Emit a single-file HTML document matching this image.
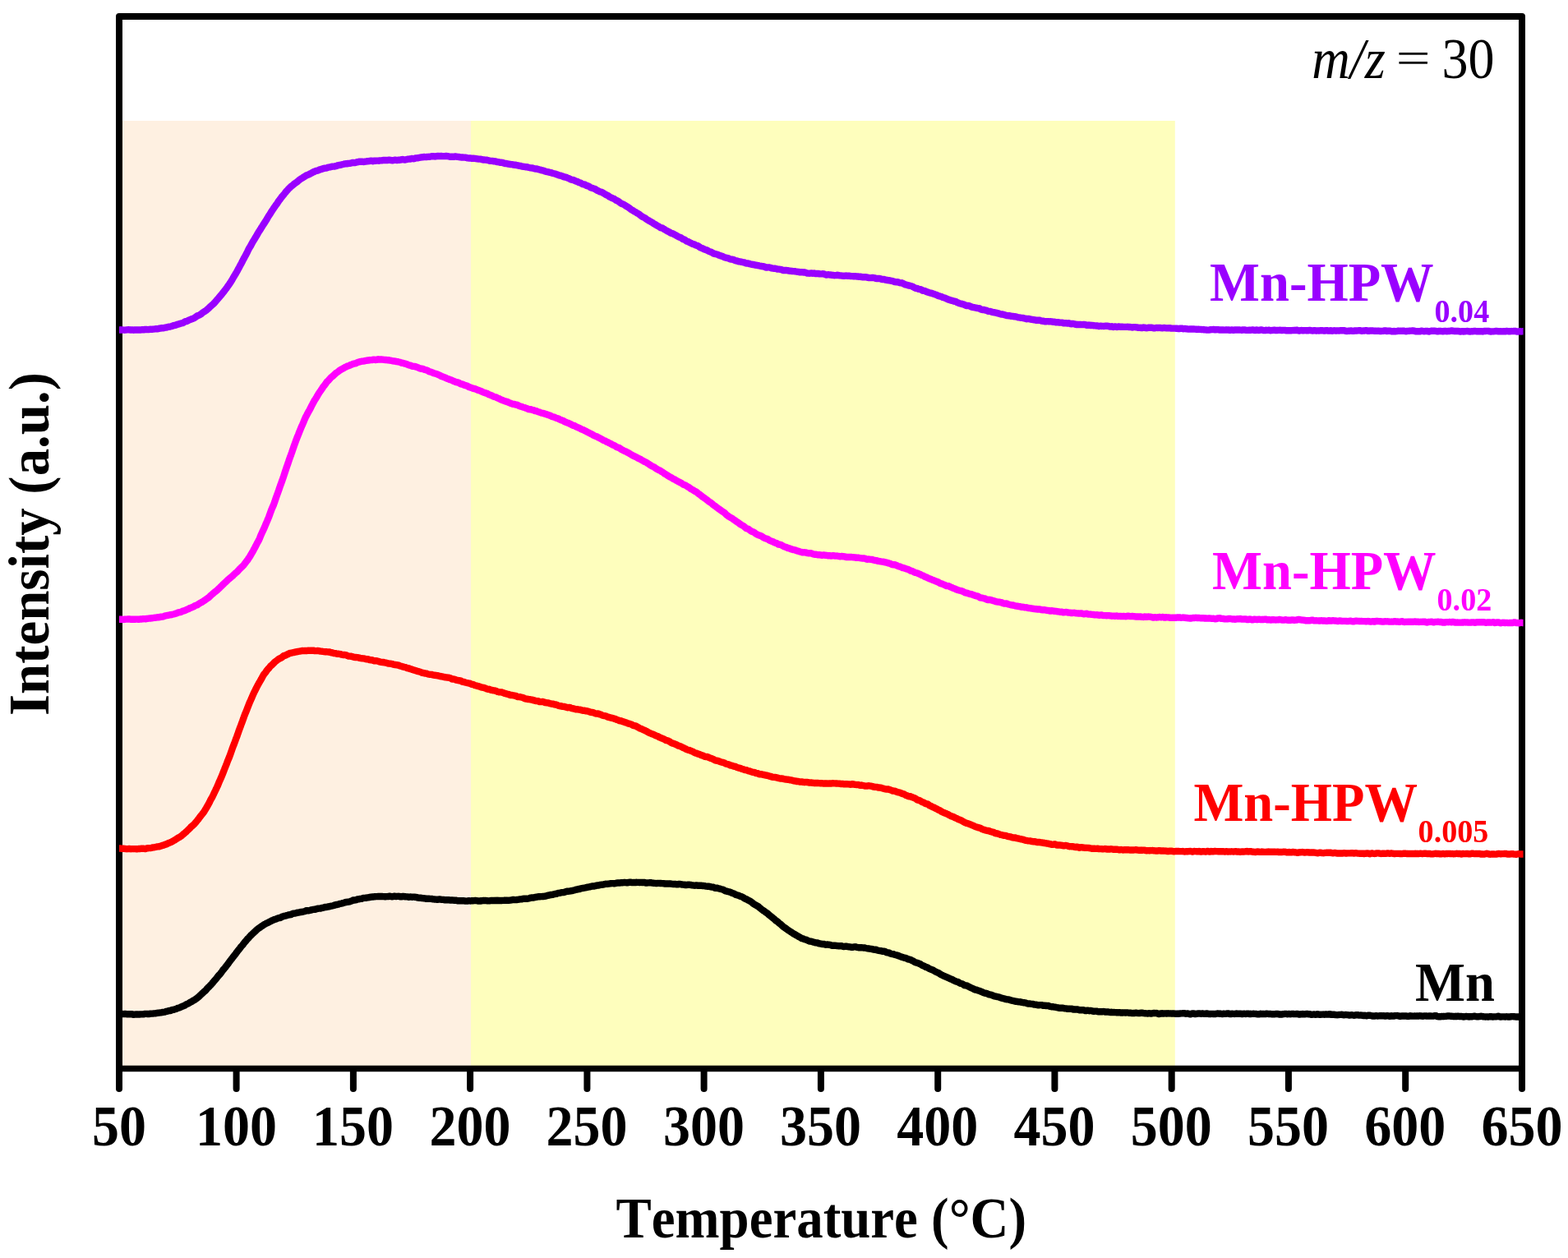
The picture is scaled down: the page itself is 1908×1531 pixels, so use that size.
<!DOCTYPE html>
<html lang="en"><head><meta charset="utf-8"><title>m/z = 30 temperature-programmed profile</title>
<style>html,body{margin:0;padding:0;background:#fff}body{width:1908px;height:1531px;overflow:hidden}svg{display:block}text{font-family:"Liberation Serif","DejaVu Serif",serif;font-kerning:none;font-variant-ligatures:none}</style>
</head><body>
<svg width="1908" height="1531" viewBox="0 0 1908 1531">
<rect x="0" y="0" width="1908" height="1531" fill="#ffffff"/>
<rect x="145.0" y="147" width="428.0" height="1153.5" fill="#fef0e1"/>
<rect x="573" y="147" width="856.8" height="1153.5" fill="#fefebd"/>
<path d="M145.0 1300.5L145.0 20.0L1852.0 20.0L1852.0 1300.5" fill="none" stroke="#000" stroke-width="8" stroke-linejoin="round" stroke-linecap="butt"/>
<line x1="141.0" y1="1300.5" x2="1856.0" y2="1300.5" stroke="#000" stroke-width="7.4"/>
<g stroke="#000" stroke-width="8" stroke-linecap="round">
<line x1="145.0" y1="1301.5" x2="145.0" y2="1324.9"/>
<line x1="287.6" y1="1301.5" x2="287.6" y2="1324.9"/>
<line x1="429.9" y1="1301.5" x2="429.9" y2="1324.9"/>
<line x1="572.1" y1="1301.5" x2="572.1" y2="1324.9"/>
<line x1="714.4" y1="1301.5" x2="714.4" y2="1324.9"/>
<line x1="856.6" y1="1301.5" x2="856.6" y2="1324.9"/>
<line x1="998.9" y1="1301.5" x2="998.9" y2="1324.9"/>
<line x1="1141.2" y1="1301.5" x2="1141.2" y2="1324.9"/>
<line x1="1283.4" y1="1301.5" x2="1283.4" y2="1324.9"/>
<line x1="1425.7" y1="1301.5" x2="1425.7" y2="1324.9"/>
<line x1="1567.9" y1="1301.5" x2="1567.9" y2="1324.9"/>
<line x1="1710.2" y1="1301.5" x2="1710.2" y2="1324.9"/>
<line x1="1852.0" y1="1301.5" x2="1852.0" y2="1324.9"/>
</g>
<g fill="none" stroke-width="8.4" stroke-linejoin="bevel" stroke-linecap="butt">
<path d="M145.0 1233.90L146.0 1233.90L147.0 1233.98L148.0 1234.11L149.0 1234.06L150.0 1234.09L151.0 1234.01L152.0 1233.87L153.0 1234.00L154.0 1234.23L155.0 1234.20L156.0 1234.16L157.0 1234.26L158.0 1234.20L159.0 1234.10L160.0 1234.12L161.0 1234.38L162.0 1234.69L163.0 1234.72L164.0 1234.66L165.0 1234.53L166.0 1234.35L167.0 1234.33L168.0 1234.51L169.0 1234.62L170.0 1234.52L171.0 1234.43L172.0 1234.36L173.0 1234.34L174.0 1234.39L175.0 1234.28L176.0 1234.02L177.0 1233.92L178.0 1233.84L179.0 1233.83L180.0 1234.08L181.0 1234.13L182.0 1233.91L183.0 1233.70L184.0 1233.61L185.0 1233.65L186.0 1233.60L187.0 1233.43L188.0 1233.36L189.0 1233.29L190.0 1233.13L191.0 1232.94L192.0 1232.78L193.0 1232.68L194.0 1232.55L195.0 1232.41L196.0 1232.31L197.0 1232.15L198.0 1231.93L199.0 1231.81L200.0 1231.70L201.0 1231.33L202.0 1230.95L203.0 1230.85L204.0 1230.67L205.0 1230.28L206.0 1230.01L207.0 1229.99L208.0 1229.84L209.0 1229.30L210.0 1228.92L211.0 1228.81L212.0 1228.59L213.0 1228.29L214.0 1228.02L215.0 1227.56L216.0 1227.08L217.0 1226.74L218.0 1226.49L219.0 1226.14L220.0 1225.57L221.0 1225.14L222.0 1224.80L223.0 1224.34L224.0 1223.95L225.0 1223.52L226.0 1222.86L227.0 1222.20L228.0 1221.76L229.0 1221.32L230.0 1220.70L231.0 1220.08L232.0 1219.51L233.0 1219.07L234.0 1218.51L235.0 1217.85L236.0 1217.33L237.0 1216.70L238.0 1216.00L239.0 1215.35L240.0 1214.60L241.0 1213.77L242.0 1212.87L243.0 1211.90L244.0 1210.97L245.0 1210.09L246.0 1209.13L247.0 1208.20L248.0 1207.23L249.0 1206.32L250.0 1205.56L251.0 1204.46L252.0 1203.16L253.0 1202.12L254.0 1201.19L255.0 1200.21L256.0 1199.16L257.0 1198.07L258.0 1197.00L259.0 1195.81L260.0 1194.53L261.0 1193.34L262.0 1192.22L263.0 1191.11L264.0 1189.80L265.0 1188.43L266.0 1187.24L267.0 1186.21L268.0 1185.22L269.0 1183.96L270.0 1182.48L271.0 1180.99L272.0 1179.76L273.0 1178.75L274.0 1177.50L275.0 1176.05L276.0 1174.80L277.0 1173.63L278.0 1172.22L279.0 1170.73L280.0 1169.40L281.0 1168.16L282.0 1166.90L283.0 1165.55L284.0 1164.19L285.0 1163.01L286.0 1161.84L287.0 1160.45L288.0 1159.00L289.0 1157.66L290.0 1156.42L291.0 1155.26L292.0 1153.94L293.0 1152.54L294.0 1151.36L295.0 1150.35L296.0 1149.09L297.0 1147.66L298.0 1146.46L299.0 1145.37L300.0 1144.10L301.0 1142.86L302.0 1141.90L303.0 1140.93L304.0 1139.71L305.0 1138.61L306.0 1137.65L307.0 1136.68L308.0 1135.81L309.0 1134.85L310.0 1133.94L311.0 1133.04L312.0 1131.97L313.0 1131.03L314.0 1130.28L315.0 1129.52L316.1 1128.87L317.1 1128.21L318.1 1127.46L319.1 1126.87L320.1 1126.12L321.1 1125.35L322.1 1124.92L323.1 1124.38L324.1 1123.70L325.1 1123.29L326.1 1122.89L327.1 1122.22L328.1 1121.75L329.1 1121.38L330.1 1120.77L331.1 1120.23L332.1 1119.81L333.1 1119.36L334.1 1118.97L335.1 1118.68L336.1 1118.40L337.1 1117.97L338.1 1117.48L339.1 1117.20L340.1 1117.06L341.1 1116.81L342.1 1116.35L343.1 1115.72L344.1 1115.34L345.1 1115.13L346.1 1114.75L347.1 1114.54L348.1 1114.36L349.1 1114.07L350.1 1113.78L351.1 1113.46L352.1 1113.24L353.1 1113.19L354.1 1113.04L355.1 1112.44L356.1 1111.89L357.1 1111.75L358.1 1111.67L359.1 1111.56L360.1 1111.27L361.1 1110.87L362.1 1110.69L363.1 1110.61L364.1 1110.40L365.1 1110.18L366.1 1109.98L367.1 1109.83L368.1 1109.71L369.1 1109.45L370.1 1109.20L371.1 1108.90L372.1 1108.39L373.1 1108.17L374.1 1108.28L375.1 1108.28L376.1 1108.10L377.1 1107.91L378.1 1107.69L379.1 1107.35L380.1 1107.13L381.1 1106.97L382.1 1106.82L383.1 1106.78L384.1 1106.59L385.1 1106.17L386.1 1105.87L387.1 1105.70L388.1 1105.63L389.1 1105.63L390.1 1105.48L391.1 1105.17L392.1 1104.94L393.1 1104.81L394.1 1104.46L395.1 1104.04L396.1 1104.01L397.1 1104.09L398.1 1103.79L399.1 1103.48L400.1 1103.35L401.1 1103.08L402.1 1102.88L403.1 1102.72L404.1 1102.46L405.1 1102.21L406.1 1101.92L407.1 1101.68L408.1 1101.34L409.1 1101.03L410.1 1100.97L411.1 1100.74L412.1 1100.41L413.1 1100.10L414.1 1099.80L415.1 1099.61L416.1 1099.40L417.1 1099.11L418.1 1098.83L419.1 1098.52L420.1 1098.18L421.1 1097.99L422.1 1097.90L423.1 1097.69L424.1 1097.51L425.1 1097.33L426.1 1097.07L427.1 1096.75L428.1 1096.33L429.1 1095.88L430.1 1095.38L431.1 1095.33L432.1 1095.50L433.1 1095.26L434.1 1094.85L435.1 1094.44L436.1 1094.30L437.1 1094.27L438.1 1093.99L439.1 1093.81L440.1 1093.71L441.1 1093.35L442.1 1093.02L443.1 1092.90L444.1 1092.85L445.1 1092.79L446.1 1092.56L447.1 1092.39L448.1 1092.37L449.1 1092.18L450.1 1091.90L451.1 1091.76L452.1 1091.66L453.1 1091.52L454.1 1091.46L455.1 1091.41L456.1 1091.21L457.1 1091.09L458.1 1091.16L459.1 1091.09L460.1 1090.99L461.1 1091.02L462.1 1090.94L463.1 1090.89L464.1 1090.98L465.1 1090.99L466.1 1091.07L467.1 1091.17L468.1 1091.22L469.1 1091.28L470.1 1091.17L471.1 1091.13L472.1 1091.17L473.1 1090.90L474.1 1090.73L475.1 1090.90L476.1 1091.11L477.1 1091.20L478.1 1091.10L479.1 1090.87L480.1 1090.69L481.1 1090.84L482.1 1091.01L483.1 1090.92L484.1 1090.86L485.1 1090.79L486.1 1090.93L487.1 1091.36L488.1 1091.43L489.1 1091.13L490.1 1090.94L491.1 1090.95L492.1 1091.10L493.1 1091.27L494.1 1091.31L495.1 1091.33L496.1 1091.45L497.1 1091.72L498.1 1091.79L499.1 1091.55L500.1 1091.54L501.1 1091.69L502.1 1091.69L503.1 1091.59L504.1 1091.61L505.1 1091.75L506.1 1091.84L507.1 1092.06L508.1 1092.40L509.1 1092.69L510.1 1092.80L511.1 1092.71L512.1 1092.75L513.1 1093.02L514.1 1093.17L515.1 1093.20L516.1 1093.29L517.1 1093.45L518.1 1093.69L519.1 1093.76L520.1 1093.70L521.1 1093.70L522.1 1093.76L523.1 1093.85L524.1 1093.85L525.1 1093.89L526.1 1094.16L527.1 1094.36L528.1 1094.41L529.1 1094.56L530.1 1094.63L531.1 1094.57L532.1 1094.75L533.1 1094.78L534.1 1094.53L535.1 1094.48L536.1 1094.61L537.1 1094.73L538.1 1094.84L539.1 1094.86L540.1 1094.97L541.1 1095.24L542.1 1095.35L543.1 1095.21L544.1 1095.09L545.1 1095.22L546.1 1095.29L547.1 1095.39L548.1 1095.59L549.1 1095.46L550.1 1095.31L551.1 1095.53L552.1 1095.75L553.1 1095.76L554.1 1095.70L555.1 1095.80L556.1 1096.11L557.1 1096.24L558.1 1096.27L559.1 1096.29L560.1 1096.25L561.1 1096.27L562.1 1096.23L563.1 1096.20L564.1 1096.25L565.1 1096.39L566.1 1096.55L567.1 1096.58L568.1 1096.63L569.1 1096.49L570.1 1096.19L571.1 1096.24L572.1 1096.46L573.1 1096.35L574.1 1096.20L575.1 1096.25L576.1 1096.23L577.1 1096.06L578.1 1095.96L579.1 1096.04L580.1 1096.24L581.1 1096.44L582.1 1096.36L583.1 1096.34L584.1 1096.60L585.1 1096.54L586.1 1096.26L587.1 1096.11L588.1 1095.98L589.1 1096.03L590.1 1096.12L591.1 1096.03L592.1 1096.13L593.1 1096.31L594.1 1096.38L595.1 1096.42L596.1 1096.26L597.1 1096.05L598.1 1096.01L599.1 1096.01L600.1 1095.88L601.1 1095.82L602.1 1096.04L603.1 1096.14L604.1 1095.86L605.1 1095.78L606.1 1096.02L607.1 1096.06L608.1 1096.00L609.1 1096.10L610.1 1096.03L611.1 1095.85L612.1 1095.84L613.1 1095.82L614.1 1095.79L615.1 1095.79L616.1 1095.72L617.1 1095.72L618.1 1095.82L619.1 1095.77L620.1 1095.62L621.1 1095.63L622.1 1095.46L623.1 1095.13L624.1 1094.99L625.1 1094.98L626.1 1095.08L627.1 1095.17L628.1 1095.09L629.1 1094.96L630.1 1094.88L631.1 1094.71L632.1 1094.52L633.1 1094.42L634.1 1094.39L635.1 1094.25L636.1 1093.96L637.1 1093.74L638.1 1093.63L639.1 1093.69L640.1 1093.78L641.1 1093.75L642.1 1093.70L643.1 1093.49L644.1 1093.18L645.1 1092.85L646.1 1092.56L647.1 1092.44L648.1 1092.42L649.1 1092.45L650.1 1092.40L651.1 1091.98L652.1 1091.65L653.1 1091.71L654.1 1091.45L655.1 1091.09L656.1 1091.15L657.1 1091.20L658.2 1091.15L659.2 1091.11L660.2 1091.01L661.2 1090.95L662.2 1090.88L663.2 1090.64L664.2 1090.49L665.2 1090.18L666.2 1089.74L667.2 1089.69L668.2 1089.51L669.2 1089.11L670.2 1088.97L671.2 1088.95L672.2 1088.91L673.2 1088.60L674.2 1088.22L675.2 1087.99L676.2 1087.88L677.2 1087.74L678.2 1087.36L679.2 1087.01L680.2 1086.93L681.2 1086.86L682.2 1086.55L683.2 1086.25L684.2 1086.16L685.2 1086.13L686.2 1086.03L687.2 1085.77L688.2 1085.30L689.2 1084.87L690.2 1084.76L691.2 1084.74L692.2 1084.63L693.2 1084.54L694.2 1084.43L695.2 1084.19L696.2 1084.01L697.2 1083.84L698.2 1083.53L699.2 1083.23L700.2 1082.91L701.2 1082.71L702.2 1082.51L703.2 1082.09L704.2 1081.97L705.2 1081.94L706.2 1081.57L707.2 1081.24L708.2 1081.01L709.2 1080.83L710.2 1080.71L711.2 1080.57L712.2 1080.44L713.2 1080.24L714.2 1079.89L715.2 1079.58L716.2 1079.51L717.2 1079.41L718.2 1079.11L719.2 1078.90L720.2 1078.69L721.2 1078.49L722.2 1078.48L723.2 1078.44L724.2 1078.22L725.2 1077.89L726.2 1077.62L727.2 1077.46L728.2 1077.45L729.2 1077.35L730.2 1076.95L731.2 1076.71L732.2 1076.74L733.2 1076.65L734.2 1076.51L735.2 1076.21L736.2 1075.85L737.2 1075.82L738.2 1075.83L739.2 1075.72L740.2 1075.58L741.2 1075.48L742.2 1075.37L743.2 1075.21L744.2 1075.13L745.2 1075.10L746.2 1075.11L747.2 1075.23L748.2 1075.24L749.2 1075.02L750.2 1074.70L751.2 1074.46L752.2 1074.39L753.2 1074.48L754.2 1074.51L755.2 1074.38L756.2 1074.15L757.2 1074.10L758.2 1074.22L759.2 1074.02L760.2 1073.89L761.2 1074.06L762.2 1074.23L763.2 1074.36L764.2 1074.14L765.2 1073.84L766.2 1073.74L767.2 1073.73L768.2 1073.92L769.2 1074.14L770.2 1074.13L771.2 1074.01L772.2 1074.08L773.2 1074.04L774.2 1073.81L775.2 1073.85L776.2 1073.89L777.2 1073.89L778.2 1074.02L779.2 1073.94L780.2 1073.85L781.2 1073.98L782.2 1073.97L783.2 1073.84L784.2 1073.99L785.2 1074.32L786.2 1074.53L787.2 1074.48L788.2 1074.37L789.2 1074.35L790.2 1074.26L791.2 1074.12L792.2 1074.23L793.2 1074.48L794.2 1074.61L795.2 1074.71L796.2 1074.83L797.2 1074.95L798.2 1075.07L799.2 1075.02L800.2 1074.89L801.2 1074.84L802.2 1074.92L803.2 1074.99L804.2 1075.03L805.2 1075.13L806.2 1075.12L807.2 1075.15L808.2 1075.44L809.2 1075.61L810.2 1075.49L811.2 1075.40L812.2 1075.46L813.2 1075.58L814.2 1075.55L815.2 1075.32L816.2 1075.52L817.2 1075.88L818.2 1075.90L819.2 1076.03L820.2 1076.18L821.2 1075.99L822.2 1075.94L823.2 1076.32L824.2 1076.46L825.2 1076.15L826.2 1075.94L827.2 1075.99L828.2 1076.14L829.2 1076.33L830.2 1076.55L831.2 1076.63L832.2 1076.59L833.2 1076.84L834.2 1077.13L835.2 1077.02L836.2 1076.84L837.2 1076.67L838.2 1076.63L839.2 1076.76L840.2 1076.88L841.2 1077.14L842.2 1077.34L843.2 1077.38L844.2 1077.55L845.2 1077.72L846.2 1077.66L847.2 1077.43L848.2 1077.46L849.2 1077.75L850.2 1077.90L851.2 1077.78L852.2 1077.68L853.2 1077.69L854.2 1077.83L855.2 1078.00L856.2 1078.05L857.2 1078.19L858.2 1078.42L859.2 1078.59L860.2 1078.69L861.2 1078.70L862.2 1078.75L863.2 1078.93L864.2 1079.15L865.2 1079.38L866.2 1079.57L867.2 1079.58L868.2 1079.73L869.2 1080.34L870.2 1080.73L871.2 1080.66L872.2 1080.71L873.2 1080.94L874.2 1081.27L875.2 1081.52L876.2 1081.67L877.2 1082.00L878.2 1082.27L879.2 1082.49L880.2 1082.85L881.2 1083.45L882.2 1084.16L883.2 1084.41L884.2 1084.57L885.2 1084.92L886.2 1085.12L887.2 1085.31L888.2 1085.63L889.2 1086.00L890.2 1086.49L891.2 1087.05L892.2 1087.31L893.2 1087.57L894.2 1088.18L895.2 1088.76L896.2 1089.18L897.2 1089.39L898.2 1089.59L899.2 1090.04L900.2 1090.58L901.2 1090.88L902.2 1091.08L903.2 1091.63L904.2 1092.20L905.2 1092.79L906.2 1093.64L907.2 1093.99L908.2 1094.15L909.2 1094.82L910.2 1095.42L911.2 1095.92L912.2 1096.53L913.2 1097.03L914.2 1097.58L915.2 1098.43L916.2 1099.35L917.2 1100.10L918.2 1100.69L919.2 1101.21L920.2 1101.91L921.2 1102.51L922.2 1102.90L923.2 1103.68L924.2 1104.59L925.2 1105.31L926.2 1106.15L927.2 1106.96L928.2 1107.74L929.2 1108.43L930.2 1109.05L931.2 1109.87L932.2 1110.60L933.2 1111.18L934.2 1111.93L935.2 1112.86L936.2 1113.77L937.2 1114.59L938.2 1115.28L939.2 1116.02L940.2 1117.02L941.2 1117.82L942.2 1118.48L943.2 1119.46L944.2 1120.45L945.2 1121.00L946.2 1121.56L947.2 1122.64L948.2 1123.62L949.2 1124.24L950.2 1125.05L951.2 1126.07L952.2 1127.06L953.2 1127.86L954.2 1128.48L955.2 1129.15L956.2 1129.92L957.2 1130.71L958.2 1131.43L959.2 1132.09L960.2 1132.71L961.2 1133.39L962.2 1134.08L963.2 1134.69L964.2 1135.42L965.2 1136.16L966.2 1136.62L967.2 1137.11L968.2 1137.73L969.2 1138.30L970.2 1138.89L971.2 1139.50L972.2 1140.08L973.2 1140.54L974.2 1141.18L975.2 1141.90L976.2 1142.21L977.2 1142.45L978.2 1142.86L979.2 1143.22L980.2 1143.46L981.2 1143.78L982.2 1144.28L983.2 1144.73L984.2 1145.19L985.2 1145.58L986.2 1145.66L987.2 1145.75L988.2 1146.06L989.2 1146.43L990.2 1146.71L991.2 1146.91L992.2 1147.22L993.2 1147.34L994.2 1147.33L995.2 1147.67L996.2 1148.14L997.2 1148.41L998.2 1148.50L999.2 1148.72L1000.3 1149.04L1001.3 1149.08L1002.3 1148.97L1003.3 1149.17L1004.3 1149.65L1005.3 1149.79L1006.3 1149.49L1007.3 1149.42L1008.3 1149.75L1009.3 1149.93L1010.3 1150.00L1011.3 1150.38L1012.3 1150.73L1013.3 1150.68L1014.3 1150.68L1015.3 1150.78L1016.3 1150.75L1017.3 1150.84L1018.3 1151.01L1019.3 1151.10L1020.3 1151.21L1021.3 1151.39L1022.3 1151.37L1023.3 1151.15L1024.3 1151.28L1025.3 1151.69L1026.3 1151.96L1027.3 1151.96L1028.3 1151.77L1029.3 1151.67L1030.3 1151.76L1031.3 1152.03L1032.3 1152.22L1033.3 1152.28L1034.3 1152.45L1035.3 1152.67L1036.3 1152.83L1037.3 1152.77L1038.3 1152.58L1039.3 1152.43L1040.3 1152.30L1041.3 1152.34L1042.3 1152.66L1043.3 1152.95L1044.3 1153.11L1045.3 1153.26L1046.3 1153.29L1047.3 1153.19L1048.3 1153.14L1049.3 1153.30L1050.3 1153.49L1051.3 1153.45L1052.3 1153.51L1053.3 1153.78L1054.3 1154.02L1055.3 1154.24L1056.3 1154.40L1057.3 1154.53L1058.3 1154.67L1059.3 1154.81L1060.3 1154.94L1061.3 1155.11L1062.3 1155.39L1063.3 1155.62L1064.3 1155.75L1065.3 1155.70L1066.3 1155.91L1067.3 1156.38L1068.3 1156.57L1069.3 1156.76L1070.3 1157.05L1071.3 1157.22L1072.3 1157.26L1073.3 1157.59L1074.3 1157.92L1075.3 1157.73L1076.3 1157.68L1077.3 1158.22L1078.3 1158.97L1079.3 1159.42L1080.3 1159.40L1081.3 1159.42L1082.3 1159.89L1083.3 1160.38L1084.3 1160.76L1085.3 1161.04L1086.3 1161.09L1087.3 1161.26L1088.3 1161.76L1089.3 1162.06L1090.3 1162.09L1091.3 1162.46L1092.3 1162.84L1093.3 1163.12L1094.3 1163.59L1095.3 1164.08L1096.3 1164.37L1097.3 1164.62L1098.3 1165.04L1099.3 1165.36L1100.3 1165.59L1101.3 1165.82L1102.3 1165.95L1103.3 1166.45L1104.3 1167.17L1105.3 1167.44L1106.3 1167.52L1107.3 1167.75L1108.3 1168.20L1109.3 1168.76L1110.3 1169.15L1111.3 1169.64L1112.3 1170.34L1113.3 1170.98L1114.3 1171.42L1115.3 1171.61L1116.3 1171.82L1117.3 1172.22L1118.3 1172.61L1119.3 1173.04L1120.3 1173.57L1121.3 1174.22L1122.3 1174.85L1123.3 1175.23L1124.3 1175.67L1125.3 1176.29L1126.3 1176.81L1127.3 1177.04L1128.3 1177.28L1129.3 1177.93L1130.3 1178.69L1131.3 1179.11L1132.3 1179.46L1133.3 1179.92L1134.3 1180.23L1135.3 1180.62L1136.3 1181.28L1137.3 1181.89L1138.3 1182.41L1139.3 1182.95L1140.3 1183.35L1141.3 1183.74L1142.3 1184.17L1143.3 1184.85L1144.3 1185.81L1145.3 1186.28L1146.3 1186.64L1147.3 1187.22L1148.3 1187.59L1149.3 1188.01L1150.3 1188.58L1151.3 1188.90L1152.3 1189.23L1153.3 1189.86L1154.3 1190.20L1155.3 1190.67L1156.3 1191.35L1157.3 1191.54L1158.3 1191.89L1159.3 1192.53L1160.3 1193.09L1161.3 1193.54L1162.3 1194.03L1163.3 1194.54L1164.3 1194.81L1165.3 1195.00L1166.3 1195.41L1167.3 1196.05L1168.3 1196.66L1169.3 1197.04L1170.3 1197.28L1171.3 1197.58L1172.3 1198.14L1173.3 1198.98L1174.3 1199.47L1175.3 1199.32L1176.3 1199.39L1177.3 1200.00L1178.3 1200.54L1179.3 1201.01L1180.3 1201.53L1181.3 1202.05L1182.3 1202.54L1183.3 1202.84L1184.3 1203.26L1185.3 1203.98L1186.3 1204.44L1187.3 1204.52L1188.3 1204.73L1189.3 1205.10L1190.3 1205.48L1191.3 1205.79L1192.3 1206.17L1193.3 1206.60L1194.3 1206.93L1195.3 1207.36L1196.3 1207.83L1197.3 1208.21L1198.3 1208.59L1199.3 1208.77L1200.3 1208.92L1201.3 1209.25L1202.3 1209.73L1203.3 1210.27L1204.3 1210.43L1205.3 1210.59L1206.3 1210.84L1207.3 1211.15L1208.3 1211.69L1209.3 1212.08L1210.3 1212.43L1211.3 1212.64L1212.3 1212.74L1213.3 1213.03L1214.3 1213.21L1215.3 1213.36L1216.3 1213.76L1217.3 1214.14L1218.3 1214.54L1219.3 1214.87L1220.3 1215.00L1221.3 1215.26L1222.3 1215.56L1223.3 1215.88L1224.3 1216.15L1225.3 1216.26L1226.3 1216.33L1227.3 1216.41L1228.3 1216.76L1229.3 1217.22L1230.3 1217.44L1231.3 1217.71L1232.3 1217.93L1233.3 1218.06L1234.3 1218.28L1235.3 1218.58L1236.3 1218.83L1237.3 1218.82L1238.3 1219.01L1239.3 1219.38L1240.3 1219.34L1241.3 1219.32L1242.3 1219.60L1243.3 1219.75L1244.3 1220.00L1245.3 1220.26L1246.3 1220.31L1247.3 1220.39L1248.3 1220.57L1249.3 1221.00L1250.3 1221.45L1251.3 1221.60L1252.3 1221.56L1253.3 1221.57L1254.3 1221.72L1255.3 1221.82L1256.3 1221.90L1257.3 1222.16L1258.3 1222.49L1259.3 1222.59L1260.3 1222.58L1261.3 1222.84L1262.3 1223.13L1263.3 1223.28L1264.3 1223.23L1265.3 1223.11L1266.3 1223.11L1267.3 1223.13L1268.3 1223.38L1269.3 1223.79L1270.3 1223.88L1271.3 1223.74L1272.3 1223.90L1273.3 1224.16L1274.3 1224.03L1275.3 1223.87L1276.3 1224.16L1277.3 1224.67L1278.3 1225.00L1279.3 1225.21L1280.3 1225.22L1281.3 1225.30L1282.3 1225.59L1283.3 1225.59L1284.3 1225.63L1285.3 1225.96L1286.3 1226.21L1287.3 1226.38L1288.3 1226.61L1289.3 1226.77L1290.3 1226.70L1291.3 1226.68L1292.3 1226.69L1293.3 1226.69L1294.3 1227.00L1295.3 1227.33L1296.3 1227.38L1297.3 1227.36L1298.3 1227.56L1299.3 1227.89L1300.3 1227.83L1301.3 1227.61L1302.3 1227.83L1303.3 1227.90L1304.3 1227.74L1305.3 1228.14L1306.3 1228.63L1307.3 1228.63L1308.3 1228.44L1309.3 1228.37L1310.3 1228.45L1311.3 1228.52L1312.3 1228.79L1313.3 1229.22L1314.3 1229.32L1315.3 1229.19L1316.3 1229.23L1317.3 1229.24L1318.3 1229.26L1319.3 1229.59L1320.3 1230.08L1321.3 1230.20L1322.3 1229.84L1323.3 1229.55L1324.3 1229.80L1325.3 1230.24L1326.3 1230.18L1327.3 1229.93L1328.3 1230.05L1329.3 1230.48L1330.3 1230.81L1331.3 1230.74L1332.3 1230.60L1333.3 1230.58L1334.3 1230.61L1335.3 1230.91L1336.3 1231.31L1337.3 1231.26L1338.3 1231.06L1339.3 1231.19L1340.3 1231.38L1341.4 1231.22L1342.4 1231.05L1343.4 1231.09L1344.4 1231.33L1345.4 1231.65L1346.4 1231.60L1347.4 1231.37L1348.4 1231.45L1349.4 1231.80L1350.4 1232.07L1351.4 1231.86L1352.4 1231.79L1353.4 1232.11L1354.4 1232.10L1355.4 1232.03L1356.4 1232.14L1357.4 1232.16L1358.4 1232.18L1359.4 1232.25L1360.4 1232.41L1361.4 1232.42L1362.4 1232.19L1363.4 1232.32L1364.4 1232.61L1365.4 1232.54L1366.4 1232.44L1367.4 1232.39L1368.4 1232.35L1369.4 1232.49L1370.4 1232.44L1371.4 1232.29L1372.4 1232.52L1373.4 1232.75L1374.4 1232.64L1375.4 1232.69L1376.4 1232.92L1377.4 1233.05L1378.4 1233.11L1379.4 1232.96L1380.4 1232.93L1381.4 1232.89L1382.4 1232.61L1383.4 1232.82L1384.4 1233.22L1385.4 1233.06L1386.4 1232.95L1387.4 1233.00L1388.4 1232.72L1389.4 1232.52L1390.4 1232.74L1391.4 1233.10L1392.4 1233.19L1393.4 1233.14L1394.4 1233.30L1395.4 1233.43L1396.4 1233.50L1397.4 1233.37L1398.4 1233.21L1399.4 1233.38L1400.4 1233.50L1401.4 1233.51L1402.4 1233.23L1403.4 1232.88L1404.4 1232.95L1405.4 1233.16L1406.4 1233.11L1407.4 1233.01L1408.4 1233.39L1409.4 1233.82L1410.4 1234.00L1411.4 1233.89L1412.4 1233.47L1413.4 1233.25L1414.4 1233.44L1415.4 1233.69L1416.4 1233.57L1417.4 1233.29L1418.4 1233.43L1419.4 1233.57L1420.4 1233.34L1421.4 1233.31L1422.4 1233.47L1423.4 1233.42L1424.4 1233.36L1425.4 1233.53L1426.4 1233.64L1427.4 1233.50L1428.4 1233.48L1429.4 1233.61L1430.4 1233.71L1431.4 1233.68L1432.4 1233.67L1433.4 1233.86L1434.4 1233.75L1435.4 1233.48L1436.4 1233.45L1437.4 1233.38L1438.4 1233.36L1439.4 1233.29L1440.4 1233.12L1441.4 1233.21L1442.4 1233.60L1443.4 1233.79L1444.4 1233.51L1445.4 1233.48L1446.4 1233.83L1447.4 1234.12L1448.4 1234.28L1449.4 1234.06L1450.4 1233.51L1451.4 1233.28L1452.4 1233.47L1453.4 1233.93L1454.4 1234.18L1455.4 1233.92L1456.4 1233.78L1457.4 1233.69L1458.4 1233.44L1459.4 1233.39L1460.4 1233.68L1461.4 1233.77L1462.4 1233.56L1463.4 1233.49L1464.4 1233.61L1465.4 1233.82L1466.4 1233.93L1467.4 1233.66L1468.4 1233.47L1469.4 1233.66L1470.4 1233.89L1471.4 1234.05L1472.4 1234.03L1473.4 1233.94L1474.4 1233.88L1475.4 1233.85L1476.4 1233.99L1477.4 1234.17L1478.4 1234.12L1479.4 1233.87L1480.4 1233.70L1481.4 1233.46L1482.4 1233.38L1483.4 1233.73L1484.4 1233.91L1485.4 1233.74L1486.4 1233.82L1487.4 1233.99L1488.4 1233.82L1489.4 1233.79L1490.4 1233.91L1491.4 1233.82L1492.4 1233.65L1493.4 1233.50L1494.4 1233.38L1495.4 1233.69L1496.4 1234.15L1497.4 1234.15L1498.4 1233.87L1499.4 1233.75L1500.4 1233.84L1501.4 1233.90L1502.4 1233.95L1503.4 1233.79L1504.4 1233.51L1505.4 1233.61L1506.4 1233.88L1507.4 1233.89L1508.4 1233.74L1509.4 1233.68L1510.4 1233.84L1511.4 1234.08L1512.4 1234.03L1513.4 1233.79L1514.4 1233.81L1515.4 1233.97L1516.4 1233.86L1517.4 1233.68L1518.4 1233.60L1519.4 1233.63L1520.4 1233.98L1521.4 1234.14L1522.4 1233.93L1523.4 1233.92L1524.4 1233.89L1525.4 1233.79L1526.4 1233.86L1527.4 1233.93L1528.4 1233.99L1529.4 1234.18L1530.4 1234.33L1531.4 1234.39L1532.4 1234.27L1533.4 1233.92L1534.4 1233.78L1535.4 1234.00L1536.4 1234.15L1537.4 1234.04L1538.4 1234.06L1539.4 1234.20L1540.4 1233.89L1541.4 1233.60L1542.4 1233.79L1543.4 1233.99L1544.4 1233.96L1545.4 1233.96L1546.4 1234.17L1547.4 1234.21L1548.4 1234.18L1549.4 1234.36L1550.4 1234.29L1551.4 1234.09L1552.4 1234.03L1553.4 1233.99L1554.4 1233.97L1555.4 1234.19L1556.4 1234.44L1557.4 1234.42L1558.4 1234.49L1559.4 1234.60L1560.4 1234.43L1561.4 1234.21L1562.4 1234.07L1563.4 1233.93L1564.4 1233.79L1565.4 1233.92L1566.4 1234.21L1567.4 1234.11L1568.4 1233.98L1569.4 1234.14L1570.4 1234.23L1571.4 1234.05L1572.4 1233.80L1573.4 1233.92L1574.4 1234.16L1575.4 1234.14L1576.4 1234.12L1577.4 1234.04L1578.4 1233.98L1579.4 1234.19L1580.4 1234.44L1581.4 1234.49L1582.4 1234.32L1583.4 1234.19L1584.4 1234.11L1585.4 1234.06L1586.4 1234.25L1587.4 1234.46L1588.4 1234.23L1589.4 1233.85L1590.4 1233.86L1591.4 1234.18L1592.4 1234.28L1593.4 1234.15L1594.4 1234.36L1595.4 1234.71L1596.4 1234.79L1597.4 1234.69L1598.4 1234.51L1599.4 1234.44L1600.4 1234.77L1601.4 1234.81L1602.4 1234.29L1603.4 1234.14L1604.4 1234.55L1605.4 1234.89L1606.4 1234.88L1607.4 1234.67L1608.4 1234.62L1609.4 1234.60L1610.4 1234.53L1611.4 1234.68L1612.4 1234.64L1613.4 1234.35L1614.4 1234.44L1615.4 1234.70L1616.4 1234.56L1617.4 1234.16L1618.4 1234.16L1619.4 1234.62L1620.4 1234.93L1621.4 1234.79L1622.4 1234.53L1623.4 1234.71L1624.4 1235.03L1625.4 1235.05L1626.4 1235.17L1627.4 1235.26L1628.4 1235.05L1629.4 1234.93L1630.4 1234.91L1631.4 1234.82L1632.4 1234.73L1633.4 1234.86L1634.4 1235.10L1635.4 1235.21L1636.4 1235.12L1637.4 1234.98L1638.4 1235.07L1639.4 1235.10L1640.4 1235.17L1641.4 1235.46L1642.4 1235.50L1643.4 1235.37L1644.4 1235.30L1645.4 1235.26L1646.4 1235.48L1647.4 1235.71L1648.4 1235.59L1649.4 1235.37L1650.4 1235.18L1651.4 1235.03L1652.4 1235.20L1653.4 1235.58L1654.4 1235.68L1655.4 1235.56L1656.4 1235.54L1657.4 1235.79L1658.4 1236.10L1659.4 1235.97L1660.4 1235.65L1661.4 1235.80L1662.4 1236.26L1663.4 1236.22L1664.4 1235.81L1665.4 1235.76L1666.4 1235.81L1667.4 1235.80L1668.4 1236.00L1669.4 1236.43L1670.4 1236.55L1671.4 1236.43L1672.4 1236.54L1673.4 1236.36L1674.4 1236.19L1675.4 1236.41L1676.4 1236.47L1677.4 1236.40L1678.4 1236.40L1679.4 1236.19L1680.4 1236.08L1681.4 1236.32L1682.4 1236.33L1683.5 1236.20L1684.5 1236.34L1685.5 1236.58L1686.5 1236.51L1687.5 1236.26L1688.5 1236.22L1689.5 1236.31L1690.5 1236.63L1691.5 1236.81L1692.5 1236.38L1693.5 1236.06L1694.5 1236.44L1695.5 1236.70L1696.5 1236.42L1697.5 1236.19L1698.5 1236.14L1699.5 1236.09L1700.5 1236.05L1701.5 1236.27L1702.5 1236.68L1703.5 1236.83L1704.5 1236.73L1705.5 1236.47L1706.5 1236.41L1707.5 1236.55L1708.5 1236.56L1709.5 1236.45L1710.5 1236.40L1711.5 1236.65L1712.5 1236.81L1713.5 1236.78L1714.5 1236.76L1715.5 1236.42L1716.5 1236.23L1717.5 1236.48L1718.5 1236.60L1719.5 1236.67L1720.5 1236.65L1721.5 1236.49L1722.5 1236.59L1723.5 1236.57L1724.5 1236.44L1725.5 1236.58L1726.5 1236.50L1727.5 1236.29L1728.5 1236.36L1729.5 1236.49L1730.5 1236.65L1731.5 1236.71L1732.5 1236.50L1733.5 1236.43L1734.5 1236.37L1735.5 1236.46L1736.5 1236.69L1737.5 1236.60L1738.5 1236.49L1739.5 1236.37L1740.5 1236.37L1741.5 1236.59L1742.5 1236.68L1743.5 1236.61L1744.5 1236.57L1745.5 1236.24L1746.5 1235.92L1747.5 1236.30L1748.5 1236.85L1749.5 1237.12L1750.5 1237.22L1751.5 1237.23L1752.5 1237.23L1753.5 1237.07L1754.5 1236.89L1755.5 1237.04L1756.5 1237.15L1757.5 1236.93L1758.5 1236.87L1759.5 1236.82L1760.5 1236.65L1761.5 1236.54L1762.5 1236.47L1763.5 1236.54L1764.5 1236.65L1765.5 1236.74L1766.5 1236.74L1767.5 1236.85L1768.5 1236.95L1769.5 1236.87L1770.5 1236.98L1771.5 1237.17L1772.5 1237.01L1773.5 1236.63L1774.5 1236.69L1775.5 1237.02L1776.5 1237.06L1777.5 1237.00L1778.5 1237.05L1779.5 1237.10L1780.5 1237.35L1781.5 1237.57L1782.5 1237.26L1783.5 1236.90L1784.5 1236.99L1785.5 1237.09L1786.5 1237.21L1787.5 1237.44L1788.5 1237.37L1789.5 1237.17L1790.5 1237.20L1791.5 1237.26L1792.5 1236.97L1793.5 1236.64L1794.5 1236.78L1795.5 1237.06L1796.5 1237.22L1797.5 1237.41L1798.5 1237.34L1799.5 1237.16L1800.5 1237.09L1801.5 1236.89L1802.5 1236.79L1803.5 1236.95L1804.5 1237.20L1805.5 1237.30L1806.5 1237.37L1807.5 1237.45L1808.5 1237.35L1809.5 1237.37L1810.5 1237.50L1811.5 1237.45L1812.5 1237.31L1813.5 1237.26L1814.5 1237.25L1815.5 1237.38L1816.5 1237.48L1817.5 1237.36L1818.5 1237.36L1819.5 1237.40L1820.5 1237.33L1821.5 1237.18L1822.5 1236.89L1823.5 1236.80L1824.5 1237.13L1825.5 1237.45L1826.5 1237.46L1827.5 1237.37L1828.5 1237.40L1829.5 1237.40L1830.5 1237.38L1831.5 1237.45L1832.5 1237.36L1833.5 1237.30L1834.5 1237.46L1835.5 1237.40L1836.5 1237.45L1837.5 1237.53L1838.5 1237.22L1839.5 1237.09L1840.5 1237.12L1841.5 1237.13L1842.5 1237.27L1843.5 1237.41L1844.5 1237.46L1845.5 1237.45L1846.5 1237.53L1847.5 1237.54L1848.5 1237.64L1849.5 1237.99L1850.5 1238.02L1851.5 1237.70L1852.5 1237.50L1853.5 1237.50" stroke="#000000"/>
<path d="M145.0 1032.50L146.0 1032.50L147.0 1032.68L148.0 1032.75L149.0 1032.75L150.0 1032.75L151.0 1032.79L152.0 1032.92L153.0 1033.09L154.0 1033.18L155.0 1033.15L156.0 1033.08L157.0 1032.96L158.0 1033.02L159.0 1033.19L160.0 1033.16L161.0 1033.10L162.0 1033.13L163.0 1033.13L164.0 1033.10L165.0 1033.14L166.0 1033.23L167.0 1033.21L168.0 1033.14L169.0 1033.06L170.0 1032.98L171.0 1032.84L172.0 1032.72L173.0 1032.77L174.0 1032.75L175.0 1032.77L176.0 1033.01L177.0 1032.97L178.0 1032.61L179.0 1032.39L180.0 1032.26L181.0 1032.15L182.0 1032.17L183.0 1032.04L184.0 1031.86L185.0 1031.66L186.0 1031.43L187.0 1031.35L188.0 1031.18L189.0 1030.98L190.0 1030.74L191.0 1030.44L192.0 1030.41L193.0 1030.41L194.0 1030.15L195.0 1029.84L196.0 1029.47L197.0 1029.08L198.0 1028.81L199.0 1028.57L200.0 1028.12L201.0 1027.77L202.0 1027.62L203.0 1027.17L204.0 1026.58L205.0 1026.12L206.0 1025.72L207.0 1025.37L208.0 1024.95L209.0 1024.46L210.0 1023.83L211.0 1023.21L212.0 1022.75L213.0 1022.18L214.0 1021.54L215.0 1020.92L216.0 1020.20L217.0 1019.61L218.0 1019.10L219.0 1018.47L220.0 1017.83L221.0 1017.10L222.0 1016.22L223.0 1015.31L224.0 1014.46L225.0 1013.62L226.0 1012.77L227.0 1011.87L228.0 1010.88L229.0 1009.87L230.0 1009.02L231.0 1008.07L232.0 1006.82L233.0 1005.81L234.0 1005.05L235.0 1004.14L236.0 1003.16L237.0 1002.17L238.0 1001.03L239.0 999.80L240.0 998.63L241.0 997.42L242.0 996.06L243.0 994.67L244.0 993.31L245.0 992.07L246.0 990.95L247.0 989.72L248.0 988.27L249.0 986.66L250.0 985.02L251.0 983.36L252.0 981.59L253.0 979.83L254.0 978.13L255.0 976.20L256.0 974.08L257.0 972.22L258.0 970.52L259.0 968.60L260.0 966.45L261.0 964.30L262.0 962.24L263.0 960.11L264.0 958.01L265.0 955.87L266.0 953.41L267.0 950.95L268.0 948.78L269.0 946.55L270.0 944.16L271.0 941.63L272.0 939.09L273.0 936.55L274.0 933.99L275.0 931.50L276.0 928.88L277.0 926.19L278.0 923.79L279.0 921.49L280.0 918.82L281.0 915.93L282.0 913.04L283.0 910.18L284.0 907.59L285.0 905.10L286.0 902.38L287.0 899.60L288.0 896.95L289.0 894.26L290.0 891.32L291.0 888.42L292.0 885.79L293.0 883.17L294.0 880.40L295.0 877.75L296.0 875.08L297.0 872.17L298.0 869.44L299.0 867.03L300.0 864.65L301.0 862.04L302.0 859.42L303.0 856.89L304.0 854.41L305.0 852.23L306.0 850.03L307.0 847.65L308.0 845.31L309.0 843.20L310.0 841.22L311.0 839.16L312.0 837.10L313.0 835.17L314.0 833.35L315.0 831.47L316.1 829.65L317.1 827.94L318.1 826.17L319.1 824.34L320.1 822.41L321.1 820.74L322.1 819.58L323.1 818.39L324.1 816.90L325.1 815.43L326.1 814.31L327.1 813.29L328.1 812.02L329.1 810.73L330.1 809.85L331.1 809.09L332.1 808.09L333.1 806.99L334.1 805.96L335.1 805.06L336.1 804.35L337.1 803.65L338.1 802.75L339.1 802.00L340.1 801.59L341.1 801.07L342.1 800.61L343.1 800.07L344.1 799.04L345.1 798.12L346.1 797.85L347.1 797.77L348.1 797.26L349.1 796.66L350.1 796.25L351.1 795.73L352.1 795.16L353.1 794.83L354.1 794.73L355.1 794.53L356.1 794.27L357.1 794.04L358.1 793.82L359.1 793.60L360.1 793.39L361.1 793.23L362.1 793.00L363.1 792.84L364.1 792.70L365.1 792.47L366.1 792.38L367.1 792.18L368.1 791.99L369.1 792.13L370.1 792.10L371.1 791.85L372.1 791.87L373.1 792.00L374.1 791.88L375.1 791.74L376.1 791.85L377.1 791.81L378.1 791.66L379.1 791.71L380.1 791.78L381.1 791.77L382.1 791.81L383.1 792.04L384.1 792.20L385.1 792.09L386.1 792.05L387.1 792.04L388.1 792.08L389.1 792.33L390.1 792.56L391.1 792.67L392.1 792.78L393.1 792.93L394.1 793.06L395.1 793.18L396.1 793.21L397.1 793.25L398.1 793.35L399.1 793.44L400.1 793.50L401.1 793.56L402.1 793.90L403.1 794.23L404.1 794.31L405.1 794.56L406.1 794.99L407.1 795.12L408.1 795.10L409.1 795.42L410.1 795.72L411.1 795.67L412.1 795.74L413.1 795.97L414.1 796.17L415.1 796.43L416.1 796.77L417.1 796.99L418.1 796.91L419.1 796.85L420.1 797.03L421.1 797.27L422.1 797.64L423.1 798.17L424.1 798.54L425.1 798.61L426.1 798.66L427.1 798.78L428.1 798.92L429.1 799.24L430.1 799.58L431.1 799.76L432.1 800.02L433.1 800.13L434.1 800.06L435.1 800.22L436.1 800.40L437.1 800.61L438.1 800.89L439.1 801.07L440.1 801.22L441.1 801.32L442.1 801.35L443.1 801.40L444.1 801.71L445.1 802.16L446.1 802.28L447.1 802.19L448.1 802.38L449.1 802.81L450.1 803.15L451.1 803.24L452.1 803.20L453.1 803.38L454.1 803.80L455.1 804.22L456.1 804.34L457.1 804.23L458.1 804.29L459.1 804.49L460.1 804.75L461.1 805.10L462.1 805.38L463.1 805.65L464.1 805.90L465.1 805.94L466.1 805.87L467.1 806.11L468.1 806.45L469.1 806.57L470.1 806.69L471.1 806.97L472.1 807.45L473.1 807.68L474.1 807.63L475.1 807.71L476.1 807.86L477.1 808.06L478.1 808.36L479.1 808.77L480.1 809.05L481.1 809.03L482.1 809.11L483.1 809.38L484.1 809.49L485.1 809.64L486.1 810.11L487.1 810.52L488.1 810.79L489.1 811.11L490.1 811.36L491.1 811.61L492.1 811.85L493.1 812.05L494.1 812.39L495.1 812.96L496.1 813.29L497.1 813.30L498.1 813.60L499.1 814.05L500.1 814.25L501.1 814.60L502.1 815.05L503.1 815.38L504.1 815.72L505.1 815.90L506.1 816.22L507.1 816.62L508.1 816.87L509.1 817.21L510.1 817.42L511.1 817.62L512.1 818.13L513.1 818.66L514.1 818.90L515.1 819.02L516.1 819.22L517.1 819.53L518.1 819.62L519.1 819.69L520.1 820.10L521.1 820.46L522.1 820.71L523.1 820.88L524.1 820.85L525.1 820.93L526.1 821.17L527.1 821.48L528.1 821.73L529.1 821.71L530.1 821.81L531.1 822.07L532.1 822.20L533.1 822.44L534.1 822.68L535.1 822.84L536.1 823.09L537.1 823.25L538.1 823.45L539.1 823.66L540.1 823.84L541.1 824.15L542.1 824.31L543.1 824.37L544.1 824.52L545.1 824.58L546.1 824.75L547.1 825.01L548.1 825.28L549.1 825.91L550.1 826.46L551.1 826.48L552.1 826.53L553.1 826.79L554.1 827.11L555.1 827.55L556.1 827.79L557.1 827.95L558.1 828.21L559.1 828.24L560.1 828.33L561.1 828.84L562.1 829.44L563.1 829.78L564.1 829.90L565.1 830.13L566.1 830.49L567.1 830.76L568.1 831.00L569.1 831.26L570.1 831.47L571.1 831.66L572.1 831.92L573.1 832.35L574.1 832.77L575.1 832.91L576.1 833.12L577.1 833.67L578.1 834.17L579.1 834.31L580.1 834.52L581.1 834.96L582.1 835.23L583.1 835.44L584.1 835.77L585.1 836.21L586.1 836.52L587.1 836.62L588.1 836.80L589.1 837.09L590.1 837.41L591.1 837.78L592.1 838.26L593.1 838.68L594.1 838.83L595.1 838.82L596.1 839.10L597.1 839.66L598.1 839.91L599.1 840.03L600.1 840.35L601.1 840.43L602.1 840.48L603.1 840.80L604.1 841.22L605.1 841.65L606.1 841.99L607.1 842.24L608.1 842.39L609.1 842.41L610.1 842.43L611.1 842.65L612.1 842.97L613.1 843.41L614.1 843.87L615.1 844.07L616.1 844.34L617.1 844.65L618.1 844.82L619.1 845.12L620.1 845.62L621.1 845.99L622.1 845.99L623.1 845.98L624.1 846.23L625.1 846.48L626.1 846.65L627.1 846.83L628.1 847.12L629.1 847.59L630.1 848.01L631.1 848.13L632.1 848.10L633.1 848.23L634.1 848.47L635.1 848.73L636.1 849.03L637.1 849.40L638.1 849.88L639.1 850.34L640.1 850.51L641.1 850.58L642.1 850.91L643.1 851.17L644.1 851.15L645.1 851.26L646.1 851.46L647.1 851.57L648.1 851.88L649.1 852.24L650.1 852.39L651.1 852.67L652.1 853.01L653.1 853.09L654.1 853.13L655.1 853.40L656.1 853.86L657.1 854.16L658.2 854.15L659.2 854.08L660.2 853.97L661.2 854.09L662.2 854.62L663.2 855.01L664.2 855.13L665.2 855.28L666.2 855.39L667.2 855.49L668.2 855.86L669.2 856.19L670.2 856.36L671.2 856.61L672.2 856.73L673.2 856.79L674.2 857.15L675.2 857.49L676.2 857.52L677.2 857.67L678.2 858.15L679.2 858.59L680.2 858.95L681.2 859.22L682.2 859.20L683.2 859.39L684.2 859.85L685.2 859.89L686.2 859.86L687.2 860.14L688.2 860.39L689.2 860.73L690.2 861.14L691.2 861.24L692.2 861.01L693.2 860.92L694.2 861.26L695.2 861.84L696.2 862.28L697.2 862.31L698.2 862.39L699.2 862.81L700.2 863.20L701.2 863.21L702.2 863.15L703.2 863.41L704.2 863.58L705.2 863.63L706.2 863.86L707.2 864.13L708.2 864.42L709.2 864.72L710.2 864.73L711.2 864.73L712.2 865.09L713.2 865.31L714.2 865.32L715.2 865.54L716.2 865.81L717.2 866.21L718.2 866.69L719.2 866.91L720.2 866.97L721.2 867.04L722.2 867.31L723.2 867.77L724.2 868.24L725.2 868.54L726.2 868.58L727.2 868.49L728.2 868.65L729.2 869.13L730.2 869.41L731.2 869.64L732.2 870.20L733.2 870.66L734.2 870.83L735.2 871.01L736.2 871.22L737.2 871.46L738.2 871.89L739.2 872.42L740.2 872.75L741.2 872.94L742.2 873.26L743.2 873.63L744.2 873.74L745.2 873.85L746.2 874.21L747.2 874.61L748.2 874.85L749.2 875.18L750.2 875.75L751.2 876.07L752.2 876.34L753.2 876.90L754.2 877.24L755.2 877.22L756.2 877.39L757.2 877.94L758.2 878.31L759.2 878.43L760.2 878.94L761.2 879.40L762.2 879.50L763.2 880.01L764.2 880.50L765.2 880.60L766.2 880.94L767.2 881.21L768.2 881.48L769.2 882.12L770.2 882.76L771.2 883.13L772.2 883.24L773.2 883.35L774.2 883.82L775.2 884.48L776.2 885.04L777.2 885.55L778.2 886.19L779.2 886.69L780.2 886.88L781.2 887.28L782.2 887.88L783.2 888.31L784.2 888.85L785.2 889.34L786.2 889.68L787.2 890.24L788.2 890.81L789.2 891.41L790.2 891.95L791.2 892.25L792.2 892.71L793.2 893.19L794.2 893.47L795.2 893.88L796.2 894.43L797.2 894.85L798.2 895.29L799.2 895.74L800.2 896.03L801.2 896.57L802.2 897.18L803.2 897.54L804.2 898.00L805.2 898.52L806.2 898.83L807.2 899.18L808.2 899.65L809.2 900.25L810.2 900.87L811.2 901.16L812.2 901.21L813.2 901.67L814.2 902.33L815.2 902.85L816.2 903.52L817.2 904.16L818.2 904.55L819.2 904.72L820.2 905.08L821.2 905.61L822.2 905.94L823.2 906.28L824.2 906.94L825.2 907.51L826.2 907.64L827.2 907.96L828.2 908.44L829.2 908.85L830.2 909.44L831.2 910.00L832.2 910.34L833.2 910.80L834.2 911.36L835.2 911.84L836.2 912.29L837.2 912.68L838.2 912.97L839.2 913.19L840.2 913.58L841.2 914.04L842.2 914.39L843.2 914.79L844.2 915.34L845.2 916.05L846.2 916.51L847.2 916.62L848.2 916.94L849.2 917.50L850.2 917.84L851.2 917.99L852.2 918.48L853.2 919.07L854.2 919.25L855.2 919.52L856.2 920.09L857.2 920.57L858.2 920.95L859.2 921.11L860.2 921.02L861.2 921.17L862.2 921.65L863.2 922.16L864.2 922.58L865.2 922.85L866.2 923.20L867.2 923.68L868.2 924.09L869.2 924.73L870.2 925.44L871.2 925.61L872.2 925.66L873.2 925.94L874.2 926.19L875.2 926.54L876.2 927.05L877.2 927.41L878.2 927.56L879.2 927.78L880.2 928.09L881.2 928.40L882.2 928.88L883.2 929.39L884.2 929.72L885.2 929.99L886.2 930.27L887.2 930.64L888.2 931.13L889.2 931.58L890.2 931.70L891.2 931.87L892.2 932.44L893.2 932.70L894.2 932.65L895.2 933.00L896.2 933.59L897.2 933.98L898.2 934.33L899.2 934.65L900.2 934.87L901.2 935.10L902.2 935.57L903.2 935.95L904.2 936.10L905.2 936.53L906.2 937.01L907.2 937.11L908.2 937.15L909.2 937.59L910.2 938.12L911.2 938.30L912.2 938.47L913.2 938.86L914.2 939.27L915.2 939.59L916.2 939.81L917.2 939.93L918.2 940.13L919.2 940.63L920.2 941.08L921.2 941.14L922.2 941.27L923.2 941.84L924.2 942.25L925.2 942.22L926.2 942.16L927.2 942.32L928.2 942.70L929.2 942.99L930.2 943.06L931.2 943.31L932.2 943.62L933.2 943.75L934.2 943.94L935.2 944.23L936.2 944.58L937.2 944.81L938.2 944.96L939.2 945.51L940.2 945.89L941.2 945.83L942.2 945.91L943.2 945.96L944.2 946.08L945.2 946.39L946.2 946.68L947.2 946.92L948.2 947.22L949.2 947.46L950.2 947.48L951.2 947.47L952.2 947.63L953.2 947.91L954.2 948.14L955.2 948.34L956.2 948.47L957.2 948.61L958.2 948.70L959.2 948.79L960.2 948.96L961.2 949.25L962.2 949.41L963.2 949.45L964.2 949.81L965.2 950.21L966.2 950.44L967.2 950.55L968.2 950.53L969.2 950.86L970.2 951.16L971.2 951.03L972.2 951.14L973.2 951.50L974.2 951.58L975.2 951.49L976.2 951.56L977.2 951.75L978.2 951.95L979.2 951.97L980.2 951.85L981.2 951.87L982.2 951.99L983.2 952.12L984.2 952.37L985.2 952.62L986.2 952.65L987.2 952.50L988.2 952.58L989.2 952.84L990.2 952.93L991.2 952.97L992.2 953.03L993.2 952.98L994.2 952.91L995.2 953.03L996.2 953.15L997.2 953.12L998.2 953.22L999.2 953.25L1000.3 953.29L1001.3 953.51L1002.3 953.41L1003.3 953.31L1004.3 953.52L1005.3 953.56L1006.3 953.50L1007.3 953.59L1008.3 953.56L1009.3 953.45L1010.3 953.50L1011.3 953.49L1012.3 953.33L1013.3 953.25L1014.3 953.37L1015.3 953.42L1016.3 953.41L1017.3 953.49L1018.3 953.54L1019.3 953.63L1020.3 953.61L1021.3 953.65L1022.3 953.90L1023.3 954.04L1024.3 954.00L1025.3 953.93L1026.3 954.11L1027.3 954.34L1028.3 954.31L1029.3 954.24L1030.3 954.26L1031.3 954.32L1032.3 954.35L1033.3 954.39L1034.3 954.67L1035.3 954.77L1036.3 954.43L1037.3 954.21L1038.3 954.36L1039.3 954.65L1040.3 954.83L1041.3 954.95L1042.3 955.10L1043.3 955.09L1044.3 955.01L1045.3 955.38L1046.3 955.73L1047.3 955.61L1048.3 955.57L1049.3 955.78L1050.3 956.01L1051.3 956.25L1052.3 956.49L1053.3 956.62L1054.3 956.58L1055.3 956.53L1056.3 956.37L1057.3 956.23L1058.3 956.45L1059.3 956.60L1060.3 956.64L1061.3 956.95L1062.3 957.40L1063.3 957.66L1064.3 957.77L1065.3 957.90L1066.3 957.88L1067.3 958.00L1068.3 958.37L1069.3 958.59L1070.3 958.56L1071.3 958.63L1072.3 958.94L1073.3 959.15L1074.3 959.46L1075.3 959.86L1076.3 959.99L1077.3 960.23L1078.3 960.62L1079.3 960.57L1080.3 960.40L1081.3 960.66L1082.3 960.98L1083.3 961.31L1084.3 961.70L1085.3 962.09L1086.3 962.49L1087.3 962.64L1088.3 962.65L1089.3 962.87L1090.3 963.30L1091.3 963.75L1092.3 964.16L1093.3 964.33L1094.3 964.43L1095.3 964.76L1096.3 965.19L1097.3 965.73L1098.3 966.14L1099.3 966.27L1100.3 966.58L1101.3 967.22L1102.3 967.84L1103.3 968.10L1104.3 968.47L1105.3 969.09L1106.3 969.22L1107.3 969.10L1108.3 969.43L1109.3 969.95L1110.3 970.33L1111.3 970.65L1112.3 971.05L1113.3 971.48L1114.3 972.00L1115.3 972.75L1116.3 973.46L1117.3 973.79L1118.3 973.92L1119.3 974.33L1120.3 974.93L1121.3 975.56L1122.3 976.16L1123.3 976.41L1124.3 976.74L1125.3 977.52L1126.3 978.07L1127.3 978.23L1128.3 978.36L1129.3 978.83L1130.3 979.74L1131.3 980.41L1132.3 980.73L1133.3 981.27L1134.3 981.90L1135.3 982.31L1136.3 982.63L1137.3 983.13L1138.3 983.80L1139.3 984.21L1140.3 984.65L1141.3 985.37L1142.3 985.79L1143.3 986.14L1144.3 986.78L1145.3 987.45L1146.3 988.00L1147.3 988.46L1148.3 988.97L1149.3 989.39L1150.3 989.68L1151.3 990.09L1152.3 990.57L1153.3 990.98L1154.3 991.51L1155.3 992.10L1156.3 992.66L1157.3 993.28L1158.3 993.61L1159.3 993.76L1160.3 994.19L1161.3 994.79L1162.3 995.32L1163.3 995.73L1164.3 996.06L1165.3 996.65L1166.3 997.19L1167.3 997.51L1168.3 997.89L1169.3 998.33L1170.3 998.85L1171.3 999.43L1172.3 999.99L1173.3 1000.54L1174.3 1001.10L1175.3 1001.57L1176.3 1001.79L1177.3 1002.02L1178.3 1002.45L1179.3 1002.84L1180.3 1003.17L1181.3 1003.57L1182.3 1004.04L1183.3 1004.52L1184.3 1004.80L1185.3 1005.25L1186.3 1005.84L1187.3 1006.15L1188.3 1006.45L1189.3 1006.81L1190.3 1007.14L1191.3 1007.44L1192.3 1007.63L1193.3 1008.01L1194.3 1008.64L1195.3 1009.08L1196.3 1009.51L1197.3 1009.90L1198.3 1010.10L1199.3 1010.41L1200.3 1010.72L1201.3 1010.95L1202.3 1010.97L1203.3 1011.10L1204.3 1011.62L1205.3 1012.05L1206.3 1012.34L1207.3 1012.50L1208.3 1012.63L1209.3 1013.01L1210.3 1013.70L1211.3 1014.18L1212.3 1014.18L1213.3 1014.32L1214.3 1014.66L1215.3 1015.00L1216.3 1015.42L1217.3 1015.78L1218.3 1016.00L1219.3 1016.22L1220.3 1016.49L1221.3 1016.76L1222.3 1016.90L1223.3 1016.91L1224.3 1017.08L1225.3 1017.52L1226.3 1017.93L1227.3 1018.16L1228.3 1018.22L1229.3 1018.33L1230.3 1018.66L1231.3 1019.08L1232.3 1019.39L1233.3 1019.44L1234.3 1019.36L1235.3 1019.52L1236.3 1019.90L1237.3 1020.19L1238.3 1020.35L1239.3 1020.47L1240.3 1020.79L1241.3 1021.10L1242.3 1021.21L1243.3 1021.43L1244.3 1021.62L1245.3 1021.83L1246.3 1022.29L1247.3 1022.63L1248.3 1022.81L1249.3 1022.99L1250.3 1023.21L1251.3 1023.42L1252.3 1023.34L1253.3 1023.37L1254.3 1023.63L1255.3 1023.86L1256.3 1024.15L1257.3 1024.22L1258.3 1024.09L1259.3 1024.17L1260.3 1024.52L1261.3 1024.87L1262.3 1024.97L1263.3 1024.91L1264.3 1024.96L1265.3 1025.17L1266.3 1025.27L1267.3 1025.33L1268.3 1025.48L1269.3 1025.62L1270.3 1025.93L1271.3 1026.15L1272.3 1026.11L1273.3 1026.34L1274.3 1026.59L1275.3 1026.62L1276.3 1026.94L1277.3 1027.26L1278.3 1027.31L1279.3 1027.62L1280.3 1027.90L1281.3 1027.84L1282.3 1027.69L1283.3 1027.44L1284.3 1027.50L1285.3 1028.10L1286.3 1028.55L1287.3 1028.58L1288.3 1028.46L1289.3 1028.46L1290.3 1028.64L1291.3 1028.71L1292.3 1028.88L1293.3 1029.11L1294.3 1029.22L1295.3 1029.26L1296.3 1029.01L1297.3 1028.98L1298.3 1029.24L1299.3 1029.51L1300.3 1029.98L1301.3 1030.21L1302.3 1030.09L1303.3 1030.12L1304.3 1030.23L1305.3 1030.19L1306.3 1030.31L1307.3 1030.79L1308.3 1031.10L1309.3 1030.90L1310.3 1030.68L1311.3 1030.88L1312.3 1031.38L1313.3 1031.71L1314.3 1031.60L1315.3 1031.25L1316.3 1031.27L1317.3 1031.51L1318.3 1031.54L1319.3 1031.72L1320.3 1031.93L1321.3 1031.83L1322.3 1031.82L1323.3 1031.92L1324.3 1031.91L1325.3 1032.02L1326.3 1032.19L1327.3 1032.48L1328.3 1032.70L1329.3 1032.73L1330.3 1032.78L1331.3 1032.67L1332.3 1032.77L1333.3 1032.97L1334.3 1032.81L1335.3 1032.68L1336.3 1032.89L1337.3 1033.14L1338.3 1033.13L1339.3 1033.08L1340.3 1033.09L1341.4 1033.21L1342.4 1033.31L1343.4 1033.19L1344.4 1033.06L1345.4 1033.14L1346.4 1033.44L1347.4 1033.61L1348.4 1033.43L1349.4 1033.32L1350.4 1033.49L1351.4 1033.38L1352.4 1033.18L1353.4 1033.47L1354.4 1033.72L1355.4 1033.67L1356.4 1033.74L1357.4 1033.84L1358.4 1033.66L1359.4 1033.66L1360.4 1034.01L1361.4 1034.23L1362.4 1034.26L1363.4 1034.07L1364.4 1034.00L1365.4 1034.25L1366.4 1034.47L1367.4 1034.37L1368.4 1034.17L1369.4 1034.23L1370.4 1034.25L1371.4 1034.19L1372.4 1034.21L1373.4 1034.23L1374.4 1034.46L1375.4 1034.64L1376.4 1034.52L1377.4 1034.41L1378.4 1034.43L1379.4 1034.44L1380.4 1034.41L1381.4 1034.30L1382.4 1034.26L1383.4 1034.39L1384.4 1034.57L1385.4 1034.72L1386.4 1034.69L1387.4 1034.66L1388.4 1034.82L1389.4 1034.80L1390.4 1034.60L1391.4 1034.59L1392.4 1034.69L1393.4 1034.85L1394.4 1035.12L1395.4 1035.23L1396.4 1035.11L1397.4 1035.18L1398.4 1035.25L1399.4 1035.07L1400.4 1035.08L1401.4 1035.16L1402.4 1035.04L1403.4 1035.08L1404.4 1035.26L1405.4 1035.37L1406.4 1035.46L1407.4 1035.45L1408.4 1035.47L1409.4 1035.35L1410.4 1035.11L1411.4 1035.24L1412.4 1035.57L1413.4 1035.60L1414.4 1035.41L1415.4 1035.35L1416.4 1035.48L1417.4 1035.58L1418.4 1035.55L1419.4 1035.69L1420.4 1036.05L1421.4 1036.10L1422.4 1035.87L1423.4 1035.74L1424.4 1035.68L1425.4 1035.75L1426.4 1035.93L1427.4 1036.14L1428.4 1036.22L1429.4 1036.09L1430.4 1036.04L1431.4 1035.96L1432.4 1035.92L1433.4 1036.02L1434.4 1036.05L1435.4 1036.10L1436.4 1036.08L1437.4 1036.11L1438.4 1036.10L1439.4 1036.03L1440.4 1036.26L1441.4 1036.46L1442.4 1036.41L1443.4 1036.29L1444.4 1036.25L1445.4 1036.20L1446.4 1036.13L1447.4 1036.05L1448.4 1035.92L1449.4 1036.07L1450.4 1036.46L1451.4 1036.47L1452.4 1036.13L1453.4 1036.03L1454.4 1036.08L1455.4 1036.10L1456.4 1036.23L1457.4 1036.32L1458.4 1036.14L1459.4 1036.04L1460.4 1036.36L1461.4 1036.56L1462.4 1036.33L1463.4 1036.20L1464.4 1036.22L1465.4 1036.24L1466.4 1036.47L1467.4 1036.45L1468.4 1036.11L1469.4 1035.94L1470.4 1036.13L1471.4 1036.55L1472.4 1036.45L1473.4 1036.05L1474.4 1036.10L1475.4 1036.24L1476.4 1036.30L1477.4 1036.16L1478.4 1035.95L1479.4 1036.12L1480.4 1036.16L1481.4 1036.12L1482.4 1036.22L1483.4 1036.20L1484.4 1036.22L1485.4 1036.30L1486.4 1036.20L1487.4 1036.16L1488.4 1036.28L1489.4 1036.42L1490.4 1036.51L1491.4 1036.38L1492.4 1036.23L1493.4 1036.37L1494.4 1036.53L1495.4 1036.40L1496.4 1036.38L1497.4 1036.45L1498.4 1036.32L1499.4 1036.33L1500.4 1036.43L1501.4 1036.46L1502.4 1036.30L1503.4 1036.16L1504.4 1036.41L1505.4 1036.57L1506.4 1036.43L1507.4 1036.51L1508.4 1036.76L1509.4 1036.70L1510.4 1036.42L1511.4 1036.47L1512.4 1036.65L1513.4 1036.55L1514.4 1036.39L1515.4 1036.32L1516.4 1036.10L1517.4 1036.04L1518.4 1036.36L1519.4 1036.47L1520.4 1036.24L1521.4 1036.08L1522.4 1036.21L1523.4 1036.53L1524.4 1036.73L1525.4 1036.80L1526.4 1036.90L1527.4 1036.96L1528.4 1036.85L1529.4 1036.57L1530.4 1036.46L1531.4 1036.60L1532.4 1036.76L1533.4 1036.88L1534.4 1036.75L1535.4 1036.57L1536.4 1036.59L1537.4 1036.80L1538.4 1036.93L1539.4 1036.86L1540.4 1036.91L1541.4 1036.84L1542.4 1036.58L1543.4 1036.57L1544.4 1036.79L1545.4 1036.81L1546.4 1036.77L1547.4 1036.81L1548.4 1036.76L1549.4 1036.71L1550.4 1036.67L1551.4 1036.72L1552.4 1036.85L1553.4 1036.91L1554.4 1036.77L1555.4 1036.81L1556.4 1037.07L1557.4 1036.98L1558.4 1036.84L1559.4 1036.99L1560.4 1037.06L1561.4 1036.78L1562.4 1036.74L1563.4 1036.86L1564.4 1036.79L1565.4 1037.18L1566.4 1037.58L1567.4 1037.26L1568.4 1036.94L1569.4 1037.07L1570.4 1037.31L1571.4 1037.43L1572.4 1037.18L1573.4 1036.92L1574.4 1037.12L1575.4 1037.30L1576.4 1037.29L1577.4 1037.51L1578.4 1037.83L1579.4 1037.87L1580.4 1037.51L1581.4 1037.11L1582.4 1037.18L1583.4 1037.23L1584.4 1037.05L1585.4 1037.13L1586.4 1037.39L1587.4 1037.47L1588.4 1037.44L1589.4 1037.35L1590.4 1037.22L1591.4 1037.21L1592.4 1037.32L1593.4 1037.54L1594.4 1037.58L1595.4 1037.47L1596.4 1037.49L1597.4 1037.43L1598.4 1037.41L1599.4 1037.56L1600.4 1037.74L1601.4 1037.99L1602.4 1038.17L1603.4 1038.19L1604.4 1038.11L1605.4 1037.75L1606.4 1037.48L1607.4 1037.73L1608.4 1038.04L1609.4 1038.17L1610.4 1038.18L1611.4 1038.04L1612.4 1037.92L1613.4 1037.80L1614.4 1037.65L1615.4 1037.65L1616.4 1037.75L1617.4 1037.74L1618.4 1037.64L1619.4 1037.77L1620.4 1038.05L1621.4 1038.28L1622.4 1038.25L1623.4 1037.99L1624.4 1037.97L1625.4 1038.18L1626.4 1038.39L1627.4 1038.52L1628.4 1038.51L1629.4 1038.46L1630.4 1038.45L1631.4 1038.44L1632.4 1038.51L1633.4 1038.49L1634.4 1038.35L1635.4 1038.20L1636.4 1038.18L1637.4 1038.45L1638.4 1038.54L1639.4 1038.39L1640.4 1038.42L1641.4 1038.42L1642.4 1038.42L1643.4 1038.41L1644.4 1038.23L1645.4 1038.18L1646.4 1038.43L1647.4 1038.50L1648.4 1038.36L1649.4 1038.26L1650.4 1038.27L1651.4 1038.48L1652.4 1038.65L1653.4 1038.66L1654.4 1038.71L1655.4 1038.77L1656.4 1038.73L1657.4 1038.60L1658.4 1038.64L1659.4 1038.94L1660.4 1038.94L1661.4 1038.75L1662.4 1038.71L1663.4 1038.47L1664.4 1038.32L1665.4 1038.79L1666.4 1039.31L1667.4 1039.14L1668.4 1038.57L1669.4 1038.40L1670.4 1038.64L1671.4 1038.80L1672.4 1038.96L1673.4 1038.92L1674.4 1038.57L1675.4 1038.38L1676.4 1038.34L1677.4 1038.36L1678.4 1038.53L1679.4 1038.80L1680.4 1038.93L1681.4 1038.92L1682.4 1038.75L1683.5 1038.59L1684.5 1038.78L1685.5 1038.86L1686.5 1038.81L1687.5 1038.69L1688.5 1038.45L1689.5 1038.48L1690.5 1038.71L1691.5 1038.70L1692.5 1038.42L1693.5 1038.43L1694.5 1038.70L1695.5 1038.92L1696.5 1039.03L1697.5 1038.97L1698.5 1038.92L1699.5 1038.88L1700.5 1038.88L1701.5 1038.86L1702.5 1038.86L1703.5 1038.97L1704.5 1039.02L1705.5 1039.08L1706.5 1039.10L1707.5 1038.80L1708.5 1038.59L1709.5 1038.77L1710.5 1038.80L1711.5 1038.85L1712.5 1039.05L1713.5 1039.04L1714.5 1038.98L1715.5 1038.95L1716.5 1038.98L1717.5 1039.01L1718.5 1038.94L1719.5 1038.98L1720.5 1039.05L1721.5 1038.83L1722.5 1038.73L1723.5 1039.04L1724.5 1039.06L1725.5 1038.86L1726.5 1038.93L1727.5 1038.90L1728.5 1038.78L1729.5 1038.90L1730.5 1038.98L1731.5 1038.97L1732.5 1038.82L1733.5 1038.62L1734.5 1038.68L1735.5 1038.86L1736.5 1038.96L1737.5 1038.97L1738.5 1038.88L1739.5 1038.88L1740.5 1039.14L1741.5 1039.36L1742.5 1039.43L1743.5 1039.38L1744.5 1039.22L1745.5 1038.95L1746.5 1038.69L1747.5 1038.82L1748.5 1039.03L1749.5 1039.04L1750.5 1038.99L1751.5 1039.15L1752.5 1039.39L1753.5 1039.38L1754.5 1039.22L1755.5 1038.96L1756.5 1038.96L1757.5 1039.24L1758.5 1039.21L1759.5 1038.96L1760.5 1038.93L1761.5 1038.95L1762.5 1038.91L1763.5 1038.88L1764.5 1039.00L1765.5 1039.19L1766.5 1039.09L1767.5 1039.04L1768.5 1039.18L1769.5 1039.19L1770.5 1039.08L1771.5 1038.97L1772.5 1038.80L1773.5 1038.86L1774.5 1039.02L1775.5 1038.92L1776.5 1039.01L1777.5 1039.35L1778.5 1039.47L1779.5 1039.16L1780.5 1038.89L1781.5 1039.06L1782.5 1039.22L1783.5 1039.06L1784.5 1039.00L1785.5 1039.04L1786.5 1039.07L1787.5 1039.23L1788.5 1039.39L1789.5 1039.17L1790.5 1038.74L1791.5 1038.66L1792.5 1038.71L1793.5 1038.99L1794.5 1039.24L1795.5 1038.95L1796.5 1038.85L1797.5 1039.11L1798.5 1039.11L1799.5 1038.93L1800.5 1039.00L1801.5 1039.36L1802.5 1039.62L1803.5 1039.54L1804.5 1039.51L1805.5 1039.60L1806.5 1039.53L1807.5 1039.29L1808.5 1038.89L1809.5 1038.75L1810.5 1039.02L1811.5 1039.38L1812.5 1039.65L1813.5 1039.71L1814.5 1039.52L1815.5 1039.35L1816.5 1039.37L1817.5 1039.50L1818.5 1039.56L1819.5 1039.61L1820.5 1039.63L1821.5 1039.42L1822.5 1039.14L1823.5 1039.00L1824.5 1039.05L1825.5 1039.24L1826.5 1039.26L1827.5 1039.15L1828.5 1039.15L1829.5 1039.10L1830.5 1039.04L1831.5 1039.01L1832.5 1038.93L1833.5 1039.19L1834.5 1039.66L1835.5 1039.65L1836.5 1039.39L1837.5 1039.47L1838.5 1039.42L1839.5 1039.11L1840.5 1039.11L1841.5 1039.36L1842.5 1039.56L1843.5 1039.68L1844.5 1039.74L1845.5 1039.72L1846.5 1039.48L1847.5 1039.26L1848.5 1039.29L1849.5 1039.42L1850.5 1039.48L1851.5 1039.73L1852.5 1039.50L1853.5 1039.50" stroke="#ff0000"/>
<path d="M145.0 753.75L146.0 753.75L147.0 753.76L148.0 753.62L149.0 753.80L150.0 753.96L151.0 753.87L152.0 753.70L153.0 753.62L154.0 753.68L155.0 753.63L156.0 753.46L157.0 753.45L158.0 753.55L159.0 753.78L160.0 753.91L161.0 753.76L162.0 753.67L163.0 753.71L164.0 753.76L165.0 753.70L166.0 753.59L167.0 753.62L168.0 753.70L169.0 753.74L170.0 753.63L171.0 753.47L172.0 753.45L173.0 753.39L174.0 753.23L175.0 753.13L176.0 753.17L177.0 753.26L178.0 753.10L179.0 752.82L180.0 752.75L181.0 752.67L182.0 752.56L183.0 752.50L184.0 752.37L185.0 752.21L186.0 752.12L187.0 751.96L188.0 751.79L189.0 751.75L190.0 751.55L191.0 751.34L192.0 751.28L193.0 751.23L194.0 751.12L195.0 750.86L196.0 750.65L197.0 750.62L198.0 750.53L199.0 750.23L200.0 749.87L201.0 749.55L202.0 749.24L203.0 749.02L204.0 748.84L205.0 748.76L206.0 748.51L207.0 748.23L208.0 748.19L209.0 748.01L210.0 747.74L211.0 747.52L212.0 747.24L213.0 746.93L214.0 746.71L215.0 746.38L216.0 745.80L217.0 745.37L218.0 745.23L219.0 745.04L220.0 744.81L221.0 744.46L222.0 743.90L223.0 743.50L224.0 743.28L225.0 742.93L226.0 742.44L227.0 741.94L228.0 741.57L229.0 741.30L230.0 740.73L231.0 740.07L232.0 739.77L233.0 739.39L234.0 738.90L235.0 738.59L236.0 738.19L237.0 737.42L238.0 736.80L239.0 736.66L240.0 736.31L241.0 735.54L242.0 734.83L243.0 734.23L244.0 733.63L245.0 733.09L246.0 732.62L247.0 732.01L248.0 731.24L249.0 730.60L250.0 729.98L251.0 729.24L252.0 728.44L253.0 727.78L254.0 727.19L255.0 726.25L256.0 725.14L257.0 724.21L258.0 723.38L259.0 722.53L260.0 721.64L261.0 720.78L262.0 720.00L263.0 719.27L264.0 718.46L265.0 717.54L266.0 716.56L267.0 715.64L268.0 714.71L269.0 713.63L270.0 712.65L271.0 711.78L272.0 710.77L273.0 709.77L274.0 708.85L275.0 708.00L276.0 707.03L277.0 705.97L278.0 705.09L279.0 704.22L280.0 703.37L281.0 702.59L282.0 701.78L283.0 700.91L284.0 699.92L285.0 698.88L286.0 697.90L287.0 697.08L288.0 696.38L289.0 695.48L290.0 694.33L291.0 693.14L292.0 692.03L293.0 691.13L294.0 690.21L295.0 689.23L296.0 688.27L297.0 687.08L298.0 685.75L299.0 684.29L300.0 683.04L301.0 681.92L302.0 680.36L303.0 678.78L304.0 677.33L305.0 675.58L306.0 673.85L307.0 672.24L308.0 670.41L309.0 668.55L310.0 666.73L311.0 664.80L312.0 662.84L313.0 660.90L314.0 659.20L315.0 657.36L316.1 654.86L317.1 652.25L318.1 649.92L319.1 647.78L320.1 645.66L321.1 643.55L322.1 641.21L323.1 638.73L324.1 636.40L325.1 634.10L326.1 631.73L327.1 629.22L328.1 626.55L329.1 623.69L330.1 620.96L331.1 618.52L332.1 616.24L333.1 613.95L334.1 611.16L335.1 608.03L336.1 605.12L337.1 602.39L338.1 599.65L339.1 596.89L340.1 593.94L341.1 591.01L342.1 588.29L343.1 585.51L344.1 582.68L345.1 579.78L346.1 576.70L347.1 573.61L348.1 570.63L349.1 567.74L350.1 564.80L351.1 561.86L352.1 558.90L353.1 556.03L354.1 553.39L355.1 550.60L356.1 547.64L357.1 544.76L358.1 541.93L359.1 539.13L360.1 536.34L361.1 533.67L362.1 531.19L363.1 528.68L364.1 526.11L365.1 523.68L366.1 521.21L367.1 518.82L368.1 516.66L369.1 514.38L370.1 511.96L371.1 509.52L372.1 507.31L373.1 505.47L374.1 503.62L375.1 501.64L376.1 499.91L377.1 498.17L378.1 496.07L379.1 494.04L380.1 492.21L381.1 490.34L382.1 488.45L383.1 486.72L384.1 485.22L385.1 483.61L386.1 481.83L387.1 480.12L388.1 478.48L389.1 476.98L390.1 475.60L391.1 474.14L392.1 472.62L393.1 471.09L394.1 469.73L395.1 468.60L396.1 467.25L397.1 465.66L398.1 464.39L399.1 463.44L400.1 462.46L401.1 461.32L402.1 460.11L403.1 459.07L404.1 458.32L405.1 457.55L406.1 456.62L407.1 455.77L408.1 454.78L409.1 453.82L410.1 453.20L411.1 452.57L412.1 451.75L413.1 450.91L414.1 450.29L415.1 449.75L416.1 449.12L417.1 448.57L418.1 448.11L419.1 447.50L420.1 446.89L421.1 446.40L422.1 445.91L423.1 445.48L424.1 445.19L425.1 444.87L426.1 444.39L427.1 443.94L428.1 443.54L429.1 443.14L430.1 442.74L431.1 442.48L432.1 442.40L433.1 442.14L434.1 441.57L435.1 441.10L436.1 440.75L437.1 440.42L438.1 440.28L439.1 440.01L440.1 439.74L441.1 439.68L442.1 439.62L443.1 439.44L444.1 439.17L445.1 438.98L446.1 438.74L447.1 438.57L448.1 438.60L449.1 438.40L450.1 438.23L451.1 438.18L452.1 438.08L453.1 438.01L454.1 437.77L455.1 437.65L456.1 437.86L457.1 437.98L458.1 437.89L459.1 437.59L460.1 437.31L461.1 437.36L462.1 437.52L463.1 437.53L464.1 437.51L465.1 437.56L466.1 437.60L467.1 437.78L468.1 437.93L469.1 437.93L470.1 438.03L471.1 438.19L472.1 438.24L473.1 438.31L474.1 438.50L475.1 438.73L476.1 438.94L477.1 439.06L478.1 439.26L479.1 439.45L480.1 439.52L481.1 439.71L482.1 439.98L483.1 440.08L484.1 440.18L485.1 440.50L486.1 440.75L487.1 440.96L488.1 441.41L489.1 441.75L490.1 441.80L491.1 442.00L492.1 442.43L493.1 442.74L494.1 442.92L495.1 443.23L496.1 443.81L497.1 444.28L498.1 444.53L499.1 444.72L500.1 444.91L501.1 445.41L502.1 445.85L503.1 445.84L504.1 445.89L505.1 446.13L506.1 446.41L507.1 446.77L508.1 447.13L509.1 447.51L510.1 447.97L511.1 448.46L512.1 448.68L513.1 448.71L514.1 448.89L515.1 449.19L516.1 449.64L517.1 450.02L518.1 450.26L519.1 450.55L520.1 450.91L521.1 451.49L522.1 452.11L523.1 452.36L524.1 452.55L525.1 452.99L526.1 453.48L527.1 453.89L528.1 454.19L529.1 454.46L530.1 454.76L531.1 455.04L532.1 455.43L533.1 455.91L534.1 456.31L535.1 456.78L536.1 457.41L537.1 457.88L538.1 458.18L539.1 458.58L540.1 459.03L541.1 459.39L542.1 459.75L543.1 460.27L544.1 460.77L545.1 461.11L546.1 461.44L547.1 461.89L548.1 462.21L549.1 462.38L550.1 462.89L551.1 463.56L552.1 463.89L553.1 464.19L554.1 464.67L555.1 465.13L556.1 465.28L557.1 465.41L558.1 465.84L559.1 466.35L560.1 467.05L561.1 467.54L562.1 467.53L563.1 467.65L564.1 468.19L565.1 468.79L566.1 469.11L567.1 469.25L568.1 469.51L569.1 470.01L570.1 470.67L571.1 471.15L572.1 471.39L573.1 471.75L574.1 472.10L575.1 472.47L576.1 472.92L577.1 473.17L578.1 473.25L579.1 473.61L580.1 474.23L581.1 474.64L582.1 474.89L583.1 475.18L584.1 475.56L585.1 476.04L586.1 476.55L587.1 476.93L588.1 477.34L589.1 477.74L590.1 478.06L591.1 478.39L592.1 478.67L593.1 479.05L594.1 479.69L595.1 480.30L596.1 480.61L597.1 480.85L598.1 481.27L599.1 481.83L600.1 482.36L601.1 482.75L602.1 483.03L603.1 483.30L604.1 483.68L605.1 484.27L606.1 484.73L607.1 485.03L608.1 485.53L609.1 486.14L610.1 486.56L611.1 486.91L612.1 487.36L613.1 487.67L614.1 487.96L615.1 488.46L616.1 488.75L617.1 488.90L618.1 489.36L619.1 489.83L620.1 490.25L621.1 490.74L622.1 491.09L623.1 491.41L624.1 491.72L625.1 491.85L626.1 492.01L627.1 492.34L628.1 492.61L629.1 492.71L630.1 493.13L631.1 493.74L632.1 494.09L633.1 494.46L634.1 494.74L635.1 495.05L636.1 495.47L637.1 495.73L638.1 495.98L639.1 496.35L640.1 496.73L641.1 497.02L642.1 497.48L643.1 498.03L644.1 498.22L645.1 498.15L646.1 498.23L647.1 498.73L648.1 499.02L649.1 499.09L650.1 499.60L651.1 500.05L652.1 500.18L653.1 500.43L654.1 500.86L655.1 501.20L656.1 501.49L657.1 501.90L658.2 502.31L659.2 502.54L660.2 502.76L661.2 503.10L662.2 503.44L663.2 503.68L664.2 504.03L665.2 504.40L666.2 504.65L667.2 505.03L668.2 505.39L669.2 505.69L670.2 506.15L671.2 506.73L672.2 507.21L673.2 507.37L674.2 507.57L675.2 508.09L676.2 508.58L677.2 508.86L678.2 509.04L679.2 509.45L680.2 510.05L681.2 510.56L682.2 510.95L683.2 511.40L684.2 511.63L685.2 511.80L686.2 512.52L687.2 513.26L688.2 513.62L689.2 514.01L690.2 514.46L691.2 514.76L692.2 515.16L693.2 515.69L694.2 516.13L695.2 516.62L696.2 517.25L697.2 517.74L698.2 517.90L699.2 518.17L700.2 518.85L701.2 519.43L702.2 519.74L703.2 520.21L704.2 520.71L705.2 521.11L706.2 521.62L707.2 522.26L708.2 522.73L709.2 522.99L710.2 523.40L711.2 523.96L712.2 524.48L713.2 524.91L714.2 525.48L715.2 526.01L716.2 526.47L717.2 526.98L718.2 527.51L719.2 528.03L720.2 528.43L721.2 529.04L722.2 529.80L723.2 530.26L724.2 530.64L725.2 531.00L726.2 531.34L727.2 532.00L728.2 532.51L729.2 532.89L730.2 533.49L731.2 534.01L732.2 534.50L733.2 535.17L734.2 535.75L735.2 536.14L736.2 536.48L737.2 537.06L738.2 537.72L739.2 538.04L740.2 538.46L741.2 539.08L742.2 539.51L743.2 540.05L744.2 540.65L745.2 541.25L746.2 541.78L747.2 542.04L748.2 542.51L749.2 543.26L750.2 543.94L751.2 544.36L752.2 544.58L753.2 544.95L754.2 545.51L755.2 546.25L756.2 547.05L757.2 547.60L758.2 548.09L759.2 548.58L760.2 548.96L761.2 549.33L762.2 549.80L763.2 550.45L764.2 550.96L765.2 551.40L766.2 552.13L767.2 552.74L768.2 553.23L769.2 553.86L770.2 554.56L771.2 555.07L772.2 555.38L773.2 555.82L774.2 556.35L775.2 556.88L776.2 557.54L777.2 558.08L778.2 558.38L779.2 558.79L780.2 559.47L781.2 560.12L782.2 560.66L783.2 561.23L784.2 561.80L785.2 562.23L786.2 562.64L787.2 563.33L788.2 563.96L789.2 564.53L790.2 565.35L791.2 566.03L792.2 566.56L793.2 567.26L794.2 567.71L795.2 567.96L796.2 568.59L797.2 569.37L798.2 570.11L799.2 570.75L800.2 571.25L801.2 571.86L802.2 572.28L803.2 572.64L804.2 573.36L805.2 574.11L806.2 574.67L807.2 575.27L808.2 576.07L809.2 576.84L810.2 577.34L811.2 577.86L812.2 578.59L813.2 579.23L814.2 579.80L815.2 580.49L816.2 580.97L817.2 581.39L818.2 582.09L819.2 582.79L820.2 583.21L821.2 583.66L822.2 584.30L823.2 584.91L824.2 585.49L825.2 585.97L826.2 586.47L827.2 587.05L828.2 587.42L829.2 587.93L830.2 588.74L831.2 589.51L832.2 590.00L833.2 590.26L834.2 590.63L835.2 591.23L836.2 591.99L837.2 592.58L838.2 592.98L839.2 593.76L840.2 594.63L841.2 595.26L842.2 595.74L843.2 596.21L844.2 596.97L845.2 597.68L846.2 598.12L847.2 598.60L848.2 599.26L849.2 600.21L850.2 601.03L851.2 601.60L852.2 602.37L853.2 603.23L854.2 604.12L855.2 604.89L856.2 605.46L857.2 606.16L858.2 606.95L859.2 607.66L860.2 608.33L861.2 609.16L862.2 610.02L863.2 610.71L864.2 611.35L865.2 612.01L866.2 612.79L867.2 613.76L868.2 614.62L869.2 615.31L870.2 615.95L871.2 616.69L872.2 617.51L873.2 618.28L874.2 618.97L875.2 619.60L876.2 620.42L877.2 621.17L878.2 621.79L879.2 622.52L880.2 623.13L881.2 623.75L882.2 624.64L883.2 625.77L884.2 626.74L885.2 627.35L886.2 628.08L887.2 628.87L888.2 629.41L889.2 629.95L890.2 630.43L891.2 631.07L892.2 631.99L893.2 632.60L894.2 633.18L895.2 634.00L896.2 634.68L897.2 635.36L898.2 636.00L899.2 636.73L900.2 637.61L901.2 638.26L902.2 638.80L903.2 639.37L904.2 639.89L905.2 640.58L906.2 641.50L907.2 642.34L908.2 643.06L909.2 643.49L910.2 643.68L911.2 644.25L912.2 645.06L913.2 645.79L914.2 646.45L915.2 646.95L916.2 647.26L917.2 647.65L918.2 648.33L919.2 649.10L920.2 649.83L921.2 650.42L922.2 650.85L923.2 651.26L924.2 651.61L925.2 651.91L926.2 652.29L927.2 652.85L928.2 653.68L929.2 654.41L930.2 654.79L931.2 655.25L932.2 655.54L933.2 655.70L934.2 656.17L935.2 656.78L936.2 657.51L937.2 658.02L938.2 658.36L939.2 658.79L940.2 659.13L941.2 659.63L942.2 660.22L943.2 660.57L944.2 660.78L945.2 661.20L946.2 661.93L947.2 662.52L948.2 662.71L949.2 662.78L950.2 663.07L951.2 663.57L952.2 664.13L953.2 664.74L954.2 665.23L955.2 665.56L956.2 665.85L957.2 666.26L958.2 666.82L959.2 667.17L960.2 667.28L961.2 667.65L962.2 668.11L963.2 668.36L964.2 668.66L965.2 669.00L966.2 669.18L967.2 669.32L968.2 669.67L969.2 670.19L970.2 670.47L971.2 670.60L972.2 670.98L973.2 671.46L974.2 671.65L975.2 671.80L976.2 672.29L977.2 672.47L978.2 672.22L979.2 672.27L980.2 672.45L981.2 672.69L982.2 673.00L983.2 673.07L984.2 673.24L985.2 673.36L986.2 673.25L987.2 673.42L988.2 673.83L989.2 674.14L990.2 674.46L991.2 674.76L992.2 674.74L993.2 674.73L994.2 675.03L995.2 675.38L996.2 675.41L997.2 675.25L998.2 675.38L999.2 675.65L1000.3 675.79L1001.3 675.64L1002.3 675.49L1003.3 675.68L1004.3 675.82L1005.3 675.80L1006.3 675.91L1007.3 676.23L1008.3 676.25L1009.3 676.12L1010.3 676.37L1011.3 676.52L1012.3 676.35L1013.3 676.22L1014.3 676.24L1015.3 676.40L1016.3 676.60L1017.3 676.59L1018.3 676.56L1019.3 676.74L1020.3 676.95L1021.3 677.19L1022.3 677.31L1023.3 677.12L1024.3 676.99L1025.3 677.15L1026.3 677.35L1027.3 677.32L1028.3 677.43L1029.3 677.92L1030.3 678.12L1031.3 677.91L1032.3 677.83L1033.3 677.98L1034.3 677.96L1035.3 677.89L1036.3 678.02L1037.3 678.14L1038.3 678.23L1039.3 678.31L1040.3 678.36L1041.3 678.64L1042.3 678.88L1043.3 678.73L1044.3 678.74L1045.3 678.94L1046.3 679.05L1047.3 679.23L1048.3 679.39L1049.3 679.47L1050.3 679.55L1051.3 679.54L1052.3 679.66L1053.3 680.02L1054.3 680.50L1055.3 680.83L1056.3 680.68L1057.3 680.51L1058.3 680.72L1059.3 680.90L1060.3 680.86L1061.3 681.02L1062.3 681.48L1063.3 681.68L1064.3 681.84L1065.3 682.11L1066.3 682.11L1067.3 682.34L1068.3 682.77L1069.3 682.89L1070.3 683.05L1071.3 683.28L1072.3 683.43L1073.3 683.57L1074.3 683.65L1075.3 683.85L1076.3 684.17L1077.3 684.37L1078.3 684.49L1079.3 684.76L1080.3 685.12L1081.3 685.41L1082.3 685.65L1083.3 685.88L1084.3 686.40L1085.3 687.04L1086.3 687.20L1087.3 687.13L1088.3 687.20L1089.3 687.38L1090.3 687.79L1091.3 688.34L1092.3 688.80L1093.3 689.14L1094.3 689.46L1095.3 689.69L1096.3 690.08L1097.3 690.62L1098.3 691.00L1099.3 691.17L1100.3 691.34L1101.3 691.77L1102.3 692.21L1103.3 692.49L1104.3 692.79L1105.3 693.09L1106.3 693.51L1107.3 694.15L1108.3 694.69L1109.3 694.96L1110.3 695.18L1111.3 695.67L1112.3 696.27L1113.3 696.68L1114.3 697.04L1115.3 697.28L1116.3 697.55L1117.3 698.02L1118.3 698.40L1119.3 698.72L1120.3 699.24L1121.3 699.85L1122.3 700.28L1123.3 700.54L1124.3 701.19L1125.3 701.88L1126.3 702.14L1127.3 702.53L1128.3 703.02L1129.3 703.56L1130.3 704.06L1131.3 704.37L1132.3 704.73L1133.3 705.14L1134.3 705.57L1135.3 705.94L1136.3 706.30L1137.3 706.75L1138.3 707.21L1139.3 707.65L1140.3 707.87L1141.3 708.23L1142.3 708.92L1143.3 709.48L1144.3 710.08L1145.3 710.39L1146.3 710.50L1147.3 711.00L1148.3 711.44L1149.3 711.77L1150.3 712.28L1151.3 712.90L1152.3 713.17L1153.3 713.08L1154.3 713.23L1155.3 713.76L1156.3 714.27L1157.3 714.67L1158.3 715.06L1159.3 715.56L1160.3 716.02L1161.3 716.26L1162.3 716.70L1163.3 717.20L1164.3 717.54L1165.3 717.95L1166.3 718.30L1167.3 718.55L1168.3 718.77L1169.3 718.99L1170.3 719.31L1171.3 719.72L1172.3 720.13L1173.3 720.67L1174.3 721.23L1175.3 721.54L1176.3 721.67L1177.3 721.87L1178.3 722.29L1179.3 722.76L1180.3 722.97L1181.3 723.01L1182.3 723.19L1183.3 723.66L1184.3 724.07L1185.3 724.29L1186.3 724.72L1187.3 725.21L1188.3 725.37L1189.3 725.49L1190.3 725.87L1191.3 726.48L1192.3 727.20L1193.3 727.58L1194.3 727.58L1195.3 727.68L1196.3 727.99L1197.3 728.26L1198.3 728.46L1199.3 728.89L1200.3 729.42L1201.3 729.83L1202.3 730.00L1203.3 729.82L1204.3 729.83L1205.3 730.13L1206.3 730.34L1207.3 730.66L1208.3 731.03L1209.3 731.18L1210.3 731.46L1211.3 732.01L1212.3 732.31L1213.3 732.46L1214.3 732.65L1215.3 732.64L1216.3 732.77L1217.3 733.11L1218.3 733.22L1219.3 733.43L1220.3 734.01L1221.3 734.39L1222.3 734.57L1223.3 734.64L1224.3 734.52L1225.3 734.67L1226.3 735.11L1227.3 735.51L1228.3 735.75L1229.3 736.00L1230.3 736.28L1231.3 736.44L1232.3 736.46L1233.3 736.66L1234.3 737.01L1235.3 737.29L1236.3 737.52L1237.3 737.63L1238.3 737.77L1239.3 738.02L1240.3 738.12L1241.3 738.26L1242.3 738.62L1243.3 738.80L1244.3 738.78L1245.3 738.92L1246.3 739.15L1247.3 739.32L1248.3 739.33L1249.3 739.31L1250.3 739.72L1251.3 740.06L1252.3 740.07L1253.3 740.20L1254.3 740.41L1255.3 740.52L1256.3 740.63L1257.3 740.85L1258.3 740.97L1259.3 741.10L1260.3 741.20L1261.3 741.25L1262.3 741.53L1263.3 741.65L1264.3 741.52L1265.3 741.55L1266.3 741.83L1267.3 742.13L1268.3 742.19L1269.3 742.15L1270.3 742.22L1271.3 742.29L1272.3 742.52L1273.3 742.80L1274.3 742.87L1275.3 742.97L1276.3 743.09L1277.3 743.43L1278.3 743.72L1279.3 743.35L1280.3 743.11L1281.3 743.52L1282.3 743.77L1283.3 743.79L1284.3 743.89L1285.3 743.93L1286.3 744.08L1287.3 744.32L1288.3 744.47L1289.3 744.66L1290.3 744.80L1291.3 744.69L1292.3 744.77L1293.3 745.24L1294.3 745.34L1295.3 745.18L1296.3 745.10L1297.3 744.98L1298.3 745.07L1299.3 745.36L1300.3 745.63L1301.3 745.61L1302.3 745.66L1303.3 746.01L1304.3 746.06L1305.3 745.87L1306.3 745.84L1307.3 745.77L1308.3 746.01L1309.3 746.41L1310.3 746.40L1311.3 746.36L1312.3 746.50L1313.3 746.66L1314.3 746.67L1315.3 746.44L1316.3 746.50L1317.3 747.01L1318.3 747.22L1319.3 747.20L1320.3 747.14L1321.3 746.86L1322.3 746.79L1323.3 747.15L1324.3 747.57L1325.3 747.68L1326.3 747.55L1327.3 747.64L1328.3 747.88L1329.3 747.93L1330.3 747.91L1331.3 748.16L1332.3 748.41L1333.3 748.34L1334.3 748.30L1335.3 748.32L1336.3 748.49L1337.3 748.88L1338.3 748.80L1339.3 748.29L1340.3 748.43L1341.4 748.92L1342.4 749.08L1343.4 749.16L1344.4 749.15L1345.4 749.12L1346.4 749.21L1347.4 749.18L1348.4 749.07L1349.4 749.16L1350.4 749.34L1351.4 749.42L1352.4 749.62L1353.4 749.72L1354.4 749.57L1355.4 749.65L1356.4 749.80L1357.4 749.70L1358.4 749.51L1359.4 749.68L1360.4 749.96L1361.4 749.90L1362.4 749.92L1363.4 750.04L1364.4 750.05L1365.4 750.09L1366.4 750.01L1367.4 749.86L1368.4 750.03L1369.4 750.23L1370.4 750.08L1371.4 749.90L1372.4 749.79L1373.4 749.75L1374.4 749.96L1375.4 750.14L1376.4 750.10L1377.4 750.01L1378.4 750.05L1379.4 750.11L1380.4 750.20L1381.4 750.35L1382.4 750.47L1383.4 750.38L1384.4 750.42L1385.4 750.67L1386.4 750.58L1387.4 750.41L1388.4 750.61L1389.4 750.86L1390.4 750.92L1391.4 750.95L1392.4 750.67L1393.4 750.44L1394.4 750.73L1395.4 750.79L1396.4 750.60L1397.4 750.56L1398.4 750.62L1399.4 750.66L1400.4 750.80L1401.4 751.07L1402.4 751.37L1403.4 751.54L1404.4 751.33L1405.4 751.20L1406.4 751.38L1407.4 751.46L1408.4 751.40L1409.4 751.27L1410.4 751.00L1411.4 751.03L1412.4 751.29L1413.4 751.26L1414.4 751.05L1415.4 750.99L1416.4 751.42L1417.4 751.75L1418.4 751.35L1419.4 751.22L1420.4 751.46L1421.4 751.32L1422.4 751.41L1423.4 751.74L1424.4 751.77L1425.4 751.82L1426.4 751.83L1427.4 751.65L1428.4 751.65L1429.4 751.79L1430.4 751.79L1431.4 751.61L1432.4 751.54L1433.4 751.56L1434.4 751.45L1435.4 751.44L1436.4 751.66L1437.4 751.82L1438.4 751.70L1439.4 751.55L1440.4 751.62L1441.4 751.71L1442.4 751.88L1443.4 751.98L1444.4 752.02L1445.4 752.30L1446.4 752.39L1447.4 752.35L1448.4 752.56L1449.4 752.59L1450.4 752.26L1451.4 751.98L1452.4 751.94L1453.4 751.97L1454.4 751.87L1455.4 751.77L1456.4 751.98L1457.4 752.12L1458.4 751.91L1459.4 751.92L1460.4 752.20L1461.4 752.37L1462.4 752.26L1463.4 752.12L1464.4 752.18L1465.4 752.33L1466.4 752.56L1467.4 752.55L1468.4 752.56L1469.4 752.70L1470.4 752.49L1471.4 752.32L1472.4 752.46L1473.4 752.59L1474.4 752.75L1475.4 752.82L1476.4 752.74L1477.4 752.87L1478.4 753.21L1479.4 753.44L1480.4 753.06L1481.4 752.52L1482.4 752.49L1483.4 752.42L1484.4 752.27L1485.4 752.62L1486.4 752.91L1487.4 752.87L1488.4 752.95L1489.4 753.17L1490.4 753.38L1491.4 753.41L1492.4 753.41L1493.4 753.42L1494.4 753.18L1495.4 753.00L1496.4 752.97L1497.4 753.00L1498.4 753.23L1499.4 753.49L1500.4 753.44L1501.4 753.33L1502.4 753.59L1503.4 753.80L1504.4 753.54L1505.4 753.20L1506.4 753.34L1507.4 753.43L1508.4 753.09L1509.4 753.00L1510.4 753.31L1511.4 753.54L1512.4 753.65L1513.4 753.58L1514.4 753.34L1515.4 753.39L1516.4 753.66L1517.4 754.01L1518.4 754.15L1519.4 753.91L1520.4 753.65L1521.4 753.49L1522.4 753.72L1523.4 754.32L1524.4 754.43L1525.4 753.93L1526.4 753.66L1527.4 753.77L1528.4 753.88L1529.4 754.03L1530.4 753.97L1531.4 753.65L1532.4 753.74L1533.4 754.02L1534.4 753.94L1535.4 753.89L1536.4 754.04L1537.4 754.00L1538.4 753.76L1539.4 753.57L1540.4 753.67L1541.4 754.09L1542.4 754.33L1543.4 754.24L1544.4 754.22L1545.4 754.40L1546.4 754.51L1547.4 754.37L1548.4 754.13L1549.4 754.18L1550.4 754.41L1551.4 754.42L1552.4 754.43L1553.4 754.41L1554.4 754.37L1555.4 754.33L1556.4 754.06L1557.4 754.05L1558.4 754.32L1559.4 754.38L1560.4 754.53L1561.4 754.68L1562.4 754.59L1563.4 754.42L1564.4 754.28L1565.4 754.42L1566.4 754.70L1567.4 754.81L1568.4 754.78L1569.4 754.73L1570.4 754.77L1571.4 754.66L1572.4 754.39L1573.4 754.42L1574.4 754.70L1575.4 754.75L1576.4 754.66L1577.4 754.66L1578.4 754.43L1579.4 753.98L1580.4 753.89L1581.4 754.12L1582.4 754.26L1583.4 754.39L1584.4 754.58L1585.4 754.66L1586.4 754.71L1587.4 754.83L1588.4 755.11L1589.4 755.43L1590.4 755.30L1591.4 755.06L1592.4 755.17L1593.4 755.29L1594.4 755.10L1595.4 754.85L1596.4 754.71L1597.4 754.80L1598.4 755.18L1599.4 755.40L1600.4 755.32L1601.4 755.25L1602.4 755.34L1603.4 755.34L1604.4 755.39L1605.4 755.57L1606.4 755.46L1607.4 755.19L1608.4 755.17L1609.4 755.47L1610.4 755.61L1611.4 755.47L1612.4 755.55L1613.4 755.74L1614.4 755.86L1615.4 755.63L1616.4 755.09L1617.4 755.13L1618.4 755.53L1619.4 755.65L1620.4 755.50L1621.4 755.17L1622.4 755.27L1623.4 755.58L1624.4 755.38L1625.4 755.32L1626.4 755.76L1627.4 756.00L1628.4 755.82L1629.4 755.56L1630.4 755.44L1631.4 755.56L1632.4 755.89L1633.4 755.93L1634.4 755.84L1635.4 755.91L1636.4 755.87L1637.4 755.91L1638.4 755.99L1639.4 756.09L1640.4 756.10L1641.4 755.94L1642.4 755.81L1643.4 755.77L1644.4 755.92L1645.4 756.27L1646.4 756.49L1647.4 756.30L1648.4 755.96L1649.4 755.76L1650.4 755.73L1651.4 755.91L1652.4 755.89L1653.4 755.85L1654.4 756.15L1655.4 756.07L1656.4 755.94L1657.4 756.12L1658.4 756.16L1659.4 756.12L1660.4 756.16L1661.4 756.18L1662.4 756.21L1663.4 756.20L1664.4 755.99L1665.4 756.08L1666.4 756.39L1667.4 756.45L1668.4 756.46L1669.4 756.36L1670.4 756.23L1671.4 756.40L1672.4 756.62L1673.4 756.42L1674.4 755.99L1675.4 755.90L1676.4 756.05L1677.4 756.08L1678.4 756.13L1679.4 756.22L1680.4 756.29L1681.4 756.50L1682.4 756.61L1683.5 756.52L1684.5 756.34L1685.5 756.25L1686.5 756.35L1687.5 756.34L1688.5 756.25L1689.5 756.45L1690.5 756.67L1691.5 756.66L1692.5 756.58L1693.5 756.55L1694.5 756.67L1695.5 756.56L1696.5 756.17L1697.5 756.23L1698.5 756.59L1699.5 756.56L1700.5 756.45L1701.5 756.61L1702.5 756.74L1703.5 756.75L1704.5 756.48L1705.5 756.14L1706.5 756.26L1707.5 756.76L1708.5 757.04L1709.5 756.86L1710.5 756.81L1711.5 756.91L1712.5 756.76L1713.5 756.58L1714.5 756.58L1715.5 756.72L1716.5 756.86L1717.5 756.74L1718.5 756.68L1719.5 756.73L1720.5 756.57L1721.5 756.50L1722.5 756.68L1723.5 756.88L1724.5 756.78L1725.5 756.75L1726.5 756.93L1727.5 756.89L1728.5 756.82L1729.5 756.85L1730.5 756.80L1731.5 756.69L1732.5 756.68L1733.5 756.66L1734.5 756.92L1735.5 757.40L1736.5 757.46L1737.5 757.18L1738.5 756.89L1739.5 756.84L1740.5 756.88L1741.5 756.75L1742.5 756.74L1743.5 757.09L1744.5 757.28L1745.5 757.07L1746.5 756.92L1747.5 756.92L1748.5 756.88L1749.5 756.80L1750.5 756.77L1751.5 756.96L1752.5 757.13L1753.5 756.96L1754.5 757.08L1755.5 757.49L1756.5 757.55L1757.5 757.52L1758.5 757.47L1759.5 757.20L1760.5 757.05L1761.5 757.16L1762.5 757.18L1763.5 757.07L1764.5 757.06L1765.5 757.20L1766.5 757.18L1767.5 756.87L1768.5 756.94L1769.5 757.35L1770.5 757.45L1771.5 757.55L1772.5 757.64L1773.5 757.54L1774.5 757.61L1775.5 757.66L1776.5 757.59L1777.5 757.63L1778.5 757.58L1779.5 757.47L1780.5 757.49L1781.5 757.37L1782.5 757.31L1783.5 757.43L1784.5 757.39L1785.5 757.42L1786.5 757.61L1787.5 757.63L1788.5 757.58L1789.5 757.58L1790.5 757.46L1791.5 757.40L1792.5 757.33L1793.5 757.46L1794.5 757.72L1795.5 757.60L1796.5 757.35L1797.5 757.26L1798.5 757.35L1799.5 757.30L1800.5 757.26L1801.5 757.34L1802.5 757.25L1803.5 757.27L1804.5 757.36L1805.5 757.20L1806.5 757.32L1807.5 757.78L1808.5 757.76L1809.5 757.47L1810.5 757.56L1811.5 757.50L1812.5 757.38L1813.5 757.62L1814.5 757.65L1815.5 757.46L1816.5 757.25L1817.5 757.28L1818.5 757.81L1819.5 758.06L1820.5 757.78L1821.5 757.44L1822.5 757.30L1823.5 757.46L1824.5 757.84L1825.5 758.13L1826.5 758.22L1827.5 758.01L1828.5 757.65L1829.5 757.79L1830.5 758.13L1831.5 757.98L1832.5 757.84L1833.5 757.91L1834.5 758.00L1835.5 758.07L1836.5 757.99L1837.5 757.90L1838.5 757.95L1839.5 758.12L1840.5 758.05L1841.5 757.67L1842.5 757.39L1843.5 757.46L1844.5 757.84L1845.5 758.01L1846.5 758.02L1847.5 758.36L1848.5 758.28L1849.5 757.92L1850.5 757.82L1851.5 757.75L1852.5 758.00L1853.5 758.00" stroke="#ff00ff"/>
<path d="M145.0 401.50L146.0 401.50L147.0 401.64L148.0 401.39L149.0 401.47L150.0 401.63L151.0 401.65L152.0 401.68L153.0 401.57L154.0 401.40L155.0 401.36L156.0 401.29L157.0 401.29L158.0 401.50L159.0 401.54L160.0 401.39L161.0 401.44L162.0 401.63L163.0 401.69L164.0 401.50L165.0 401.46L166.0 401.56L167.0 401.52L168.0 401.52L169.0 401.40L170.0 401.35L171.0 401.47L172.0 401.37L173.0 401.21L174.0 401.25L175.0 401.34L176.0 401.13L177.0 400.84L178.0 400.93L179.0 401.10L180.0 401.09L181.0 401.00L182.0 400.87L183.0 400.81L184.0 400.87L185.0 400.74L186.0 400.60L187.0 400.61L188.0 400.46L189.0 400.30L190.0 400.16L191.0 400.23L192.0 400.27L193.0 399.91L194.0 399.75L195.0 399.67L196.0 399.33L197.0 399.13L198.0 399.23L199.0 399.28L200.0 399.00L201.0 398.58L202.0 398.55L203.0 398.52L204.0 398.04L205.0 397.80L206.0 397.77L207.0 397.54L208.0 397.29L209.0 396.99L210.0 396.58L211.0 396.22L212.0 396.01L213.0 395.88L214.0 395.57L215.0 395.11L216.0 394.72L217.0 394.48L218.0 394.33L219.0 394.00L220.0 393.57L221.0 393.37L222.0 393.22L223.0 392.86L224.0 392.11L225.0 391.41L226.0 391.21L227.0 391.07L228.0 390.67L229.0 390.09L230.0 389.58L231.0 389.19L232.0 388.75L233.0 388.39L234.0 388.09L235.0 387.69L236.0 387.24L237.0 386.68L238.0 385.95L239.0 385.16L240.0 384.46L241.0 384.02L242.0 383.73L243.0 383.27L244.0 382.66L245.0 381.96L246.0 381.01L247.0 380.20L248.0 379.66L249.0 378.96L250.0 378.33L251.0 377.69L252.0 376.74L253.0 375.89L254.0 375.07L255.0 373.97L256.0 372.98L257.0 372.15L258.0 371.31L259.0 370.50L260.0 369.53L261.0 368.49L262.0 367.39L263.0 366.16L264.0 364.95L265.0 363.85L266.0 362.69L267.0 361.47L268.0 360.28L269.0 359.13L270.0 357.98L271.0 356.72L272.0 355.46L273.0 354.13L274.0 352.76L275.0 351.47L276.0 350.07L277.0 348.62L278.0 347.31L279.0 345.88L280.0 344.32L281.0 342.85L282.0 341.26L283.0 339.47L284.0 337.72L285.0 336.04L286.0 334.40L287.0 332.73L288.0 330.98L289.0 329.14L290.0 327.31L291.0 325.49L292.0 323.61L293.0 321.78L294.0 319.97L295.0 318.00L296.0 315.96L297.0 314.12L298.0 312.29L299.0 310.45L300.0 308.61L301.0 306.59L302.0 304.43L303.0 302.42L304.0 300.81L305.0 299.19L306.0 297.28L307.0 295.41L308.0 293.72L309.0 292.08L310.0 290.44L311.0 288.83L312.0 287.16L313.0 285.35L314.0 283.59L315.0 281.94L316.1 280.32L317.1 278.69L318.1 277.05L319.1 275.47L320.1 273.88L321.1 272.38L322.1 270.88L323.1 269.23L324.1 267.64L325.1 266.05L326.1 264.29L327.1 262.54L328.1 261.08L329.1 259.61L330.1 257.90L331.1 256.38L332.1 254.95L333.1 253.45L334.1 251.98L335.1 250.44L336.1 249.08L337.1 247.81L338.1 246.19L339.1 244.62L340.1 243.36L341.1 242.07L342.1 240.66L343.1 239.34L344.1 238.16L345.1 237.02L346.1 235.76L347.1 234.49L348.1 233.26L349.1 232.09L350.1 231.02L351.1 229.92L352.1 228.88L353.1 228.00L354.1 227.04L355.1 226.17L356.1 225.52L357.1 224.60L358.1 223.66L359.1 223.00L360.1 222.37L361.1 221.67L362.1 220.90L363.1 220.00L364.1 219.04L365.1 218.29L366.1 217.72L367.1 217.15L368.1 216.47L369.1 215.78L370.1 215.25L371.1 214.56L372.1 213.84L373.1 213.37L374.1 212.96L375.1 212.58L376.1 212.12L377.1 211.63L378.1 211.16L379.1 210.61L380.1 209.96L381.1 209.41L382.1 209.13L383.1 208.71L384.1 208.14L385.1 207.79L386.1 207.56L387.1 207.31L388.1 206.88L389.1 206.42L390.1 206.27L391.1 206.03L392.1 205.46L393.1 205.14L394.1 204.98L395.1 204.67L396.1 204.56L397.1 204.47L398.1 204.14L399.1 203.77L400.1 203.55L401.1 203.41L402.1 203.26L403.1 203.00L404.1 202.64L405.1 202.59L406.1 202.70L407.1 202.52L408.1 202.21L409.1 202.02L410.1 201.67L411.1 201.26L412.1 201.04L413.1 200.86L414.1 200.76L415.1 200.62L416.1 200.28L417.1 200.02L418.1 199.76L419.1 199.49L420.1 199.36L421.1 199.25L422.1 199.28L423.1 199.14L424.1 198.84L425.1 198.83L426.1 198.78L427.1 198.45L428.1 198.16L429.1 198.00L430.1 198.00L431.1 198.09L432.1 198.03L433.1 197.70L434.1 197.30L435.1 197.24L436.1 197.15L437.1 196.75L438.1 196.64L439.1 196.77L440.1 196.68L441.1 196.75L442.1 196.96L443.1 196.84L444.1 196.64L445.1 196.57L446.1 196.41L447.1 196.25L448.1 196.23L449.1 196.05L450.1 195.81L451.1 195.70L452.1 195.74L453.1 196.15L454.1 196.21L455.1 195.75L456.1 195.65L457.1 195.73L458.1 195.68L459.1 195.61L460.1 195.66L461.1 195.69L462.1 195.45L463.1 195.33L464.1 195.39L465.1 195.26L466.1 195.05L467.1 194.99L468.1 194.98L469.1 194.95L470.1 195.08L471.1 195.07L472.1 194.86L473.1 194.76L474.1 194.75L475.1 194.82L476.1 195.02L477.1 195.28L478.1 195.31L479.1 195.04L480.1 194.79L481.1 194.72L482.1 194.86L483.1 194.99L484.1 194.88L485.1 194.74L486.1 194.71L487.1 194.64L488.1 194.39L489.1 194.08L490.1 194.04L491.1 194.30L492.1 194.51L493.1 194.49L494.1 194.27L495.1 193.96L496.1 193.68L497.1 193.58L498.1 193.56L499.1 193.56L500.1 193.42L501.1 193.06L502.1 192.99L503.1 193.20L504.1 193.11L505.1 192.68L506.1 192.36L507.1 192.36L508.1 192.26L509.1 192.07L510.1 191.93L511.1 191.73L512.1 191.50L513.1 191.36L514.1 191.29L515.1 191.08L516.1 190.97L517.1 191.09L518.1 191.15L519.1 191.03L520.1 190.89L521.1 190.85L522.1 190.82L523.1 190.75L524.1 190.52L525.1 190.27L526.1 190.22L527.1 190.21L528.1 190.24L529.1 190.45L530.1 190.40L531.1 190.10L532.1 190.04L533.1 190.06L534.1 190.07L535.1 190.10L536.1 190.02L537.1 190.02L538.1 190.16L539.1 190.15L540.1 190.08L541.1 190.09L542.1 190.06L543.1 190.04L544.1 190.07L545.1 190.19L546.1 190.39L547.1 190.57L548.1 190.73L549.1 190.77L550.1 190.68L551.1 190.79L552.1 190.83L553.1 190.59L554.1 190.39L555.1 190.55L556.1 190.83L557.1 190.90L558.1 190.95L559.1 191.13L560.1 191.32L561.1 191.46L562.1 191.54L563.1 191.51L564.1 191.60L565.1 191.68L566.1 191.62L567.1 191.78L568.1 192.08L569.1 192.31L570.1 192.46L571.1 192.45L572.1 192.43L573.1 192.63L574.1 192.77L575.1 192.61L576.1 192.65L577.1 192.83L578.1 192.88L579.1 193.05L580.1 193.27L581.1 193.43L582.1 193.55L583.1 193.61L584.1 193.63L585.1 193.66L586.1 193.95L587.1 194.38L588.1 194.45L589.1 194.52L590.1 194.67L591.1 194.63L592.1 194.73L593.1 194.92L594.1 195.08L595.1 195.44L596.1 195.78L597.1 195.91L598.1 195.87L599.1 195.86L600.1 196.07L601.1 196.27L602.1 196.31L603.1 196.47L604.1 196.83L605.1 197.03L606.1 197.09L607.1 197.30L608.1 197.63L609.1 197.82L610.1 197.77L611.1 197.86L612.1 198.10L613.1 198.51L614.1 198.94L615.1 198.97L616.1 199.04L617.1 199.36L618.1 199.48L619.1 199.63L620.1 199.87L621.1 200.00L622.1 200.13L623.1 200.18L624.1 200.35L625.1 200.69L626.1 200.78L627.1 200.74L628.1 200.92L629.1 201.21L630.1 201.42L631.1 201.64L632.1 201.78L633.1 201.85L634.1 202.19L635.1 202.48L636.1 202.60L637.1 202.81L638.1 202.99L639.1 203.18L640.1 203.29L641.1 203.26L642.1 203.40L643.1 203.73L644.1 204.03L645.1 204.26L646.1 204.41L647.1 204.46L648.1 204.55L649.1 204.78L650.1 205.19L651.1 205.46L652.1 205.42L653.1 205.47L654.1 205.79L655.1 206.20L656.1 206.41L657.1 206.54L658.2 206.93L659.2 207.27L660.2 207.40L661.2 207.58L662.2 207.97L663.2 208.50L664.2 208.78L665.2 208.93L666.2 209.21L667.2 209.41L668.2 209.62L669.2 209.84L670.2 210.03L671.2 210.34L672.2 210.72L673.2 211.03L674.2 211.28L675.2 211.54L676.2 211.83L677.2 212.17L678.2 212.52L679.2 212.92L680.2 213.35L681.2 213.52L682.2 213.72L683.2 214.12L684.2 214.33L685.2 214.73L686.2 215.40L687.2 215.49L688.2 215.43L689.2 215.91L690.2 216.53L691.2 216.80L692.2 217.03L693.2 217.61L694.2 218.21L695.2 218.59L696.2 218.77L697.2 218.95L698.2 219.30L699.2 219.81L700.2 220.32L701.2 220.63L702.2 220.86L703.2 221.33L704.2 221.93L705.2 222.29L706.2 222.61L707.2 223.11L708.2 223.68L709.2 224.18L710.2 224.40L711.2 224.44L712.2 224.85L713.2 225.62L714.2 226.06L715.2 226.25L716.2 226.63L717.2 227.21L718.2 227.94L719.2 228.45L720.2 228.73L721.2 229.03L722.2 229.38L723.2 229.71L724.2 230.12L725.2 230.77L726.2 231.46L727.2 231.97L728.2 232.36L729.2 232.92L730.2 233.47L731.2 233.64L732.2 233.86L733.2 234.44L734.2 235.02L735.2 235.58L736.2 236.28L737.2 236.90L738.2 237.36L739.2 237.73L740.2 238.37L741.2 239.19L742.2 239.73L743.2 240.20L744.2 240.69L745.2 241.25L746.2 241.67L747.2 241.91L748.2 242.60L749.2 243.51L750.2 244.03L751.2 244.35L752.2 244.80L753.2 245.51L754.2 246.41L755.2 247.18L756.2 247.74L757.2 248.14L758.2 248.52L759.2 249.00L760.2 249.60L761.2 250.33L762.2 250.95L763.2 251.49L764.2 252.13L765.2 252.80L766.2 253.51L767.2 254.36L768.2 255.13L769.2 255.65L770.2 256.23L771.2 256.93L772.2 257.45L773.2 257.93L774.2 258.59L775.2 259.30L776.2 259.86L777.2 260.37L778.2 261.12L779.2 261.92L780.2 262.75L781.2 263.43L782.2 263.96L783.2 264.48L784.2 264.93L785.2 265.59L786.2 266.42L787.2 267.09L788.2 267.71L789.2 268.38L790.2 268.88L791.2 269.43L792.2 270.07L793.2 270.61L794.2 271.20L795.2 271.95L796.2 272.62L797.2 273.05L798.2 273.60L799.2 274.36L800.2 274.95L801.2 275.35L802.2 275.89L803.2 276.71L804.2 277.33L805.2 277.40L806.2 277.67L807.2 278.27L808.2 278.86L809.2 279.63L810.2 280.17L811.2 280.67L812.2 281.35L813.2 281.83L814.2 282.22L815.2 282.87L816.2 283.64L817.2 283.99L818.2 284.18L819.2 284.62L820.2 285.12L821.2 285.65L822.2 286.27L823.2 286.79L824.2 287.33L825.2 288.00L826.2 288.43L827.2 288.78L828.2 289.16L829.2 289.62L830.2 290.46L831.2 291.12L832.2 291.36L833.2 291.73L834.2 292.51L835.2 293.36L836.2 293.79L837.2 294.09L838.2 294.59L839.2 295.16L840.2 295.60L841.2 295.95L842.2 296.57L843.2 297.17L844.2 297.28L845.2 297.59L846.2 298.24L847.2 298.60L848.2 298.80L849.2 299.20L850.2 299.86L851.2 300.64L852.2 301.29L853.2 301.71L854.2 302.04L855.2 302.46L856.2 302.98L857.2 303.51L858.2 303.83L859.2 304.01L860.2 304.45L861.2 304.99L862.2 305.60L863.2 306.14L864.2 306.33L865.2 306.72L866.2 307.27L867.2 307.77L868.2 308.44L869.2 308.81L870.2 308.94L871.2 309.30L872.2 309.55L873.2 309.83L874.2 310.36L875.2 310.65L876.2 310.97L877.2 311.49L878.2 311.75L879.2 311.90L880.2 312.40L881.2 313.11L882.2 313.42L883.2 313.57L884.2 313.92L885.2 314.08L886.2 314.36L887.2 314.85L888.2 315.17L889.2 315.47L890.2 315.57L891.2 315.66L892.2 315.99L893.2 316.41L894.2 316.89L895.2 317.23L896.2 317.39L897.2 317.66L898.2 318.08L899.2 318.28L900.2 318.40L901.2 318.58L902.2 318.74L903.2 319.02L904.2 319.26L905.2 319.36L906.2 319.64L907.2 320.19L908.2 320.50L909.2 320.45L910.2 320.52L911.2 320.82L912.2 321.17L913.2 321.39L914.2 321.57L915.2 321.88L916.2 322.04L917.2 322.06L918.2 322.33L919.2 322.65L920.2 322.77L921.2 322.93L922.2 323.13L923.2 323.25L924.2 323.51L925.2 323.76L926.2 323.93L927.2 324.18L928.2 324.28L929.2 324.26L930.2 324.52L931.2 325.15L932.2 325.57L933.2 325.60L934.2 325.42L935.2 325.31L936.2 325.45L937.2 325.71L938.2 326.11L939.2 326.39L940.2 326.54L941.2 326.68L942.2 326.68L943.2 326.75L944.2 327.02L945.2 327.31L946.2 327.53L947.2 327.60L948.2 327.69L949.2 327.82L950.2 327.91L951.2 328.25L952.2 328.68L953.2 329.03L954.2 329.12L955.2 328.92L956.2 328.91L957.2 329.02L958.2 329.07L959.2 329.31L960.2 329.65L961.2 329.73L962.2 329.80L963.2 330.00L964.2 330.03L965.2 330.08L966.2 330.15L967.2 330.23L968.2 330.41L969.2 330.54L970.2 330.75L971.2 330.87L972.2 330.95L973.2 331.32L974.2 331.43L975.2 331.12L976.2 331.10L977.2 331.47L978.2 331.65L979.2 331.47L980.2 331.58L981.2 332.13L982.2 332.49L983.2 332.59L984.2 332.63L985.2 332.69L986.2 332.53L987.2 332.34L988.2 332.61L989.2 332.71L990.2 332.49L991.2 332.66L992.2 333.06L993.2 333.12L994.2 332.94L995.2 332.82L996.2 333.07L997.2 333.36L998.2 333.38L999.2 333.41L1000.3 333.39L1001.3 333.28L1002.3 333.38L1003.3 333.69L1004.3 334.08L1005.3 334.44L1006.3 334.46L1007.3 334.24L1008.3 334.28L1009.3 334.45L1010.3 334.43L1011.3 334.58L1012.3 334.78L1013.3 334.84L1014.3 335.01L1015.3 335.18L1016.3 335.16L1017.3 335.11L1018.3 334.89L1019.3 334.66L1020.3 334.99L1021.3 335.37L1022.3 335.36L1023.3 335.41L1024.3 335.57L1025.3 335.66L1026.3 335.83L1027.3 335.93L1028.3 335.72L1029.3 335.51L1030.3 335.57L1031.3 335.74L1032.3 335.77L1033.3 335.72L1034.3 335.83L1035.3 336.04L1036.3 336.18L1037.3 336.13L1038.3 336.19L1039.3 336.28L1040.3 336.17L1041.3 336.27L1042.3 336.45L1043.3 336.46L1044.3 336.68L1045.3 336.85L1046.3 336.61L1047.3 336.65L1048.3 337.03L1049.3 337.25L1050.3 337.28L1051.3 337.28L1052.3 337.28L1053.3 337.27L1054.3 337.41L1055.3 337.64L1056.3 337.90L1057.3 338.05L1058.3 338.08L1059.3 338.16L1060.3 338.07L1061.3 337.93L1062.3 337.99L1063.3 338.11L1064.3 338.28L1065.3 338.64L1066.3 339.06L1067.3 339.02L1068.3 338.83L1069.3 338.97L1070.3 339.05L1071.3 339.21L1072.3 339.69L1073.3 340.09L1074.3 340.07L1075.3 339.98L1076.3 340.17L1077.3 340.54L1078.3 340.76L1079.3 340.90L1080.3 341.16L1081.3 341.22L1082.3 341.19L1083.3 341.49L1084.3 341.84L1085.3 341.91L1086.3 342.08L1087.3 342.47L1088.3 342.85L1089.3 343.13L1090.3 343.19L1091.3 343.17L1092.3 343.25L1093.3 343.57L1094.3 344.03L1095.3 344.33L1096.3 344.36L1097.3 344.32L1098.3 344.66L1099.3 345.21L1100.3 345.80L1101.3 346.31L1102.3 346.49L1103.3 346.65L1104.3 346.95L1105.3 347.41L1106.3 347.64L1107.3 347.71L1108.3 348.00L1109.3 348.25L1110.3 348.72L1111.3 349.32L1112.3 349.81L1113.3 350.39L1114.3 350.78L1115.3 350.90L1116.3 351.12L1117.3 351.59L1118.3 351.98L1119.3 352.15L1120.3 352.21L1121.3 352.58L1122.3 353.39L1123.3 353.89L1124.3 353.87L1125.3 353.97L1126.3 354.45L1127.3 355.04L1128.3 355.43L1129.3 355.68L1130.3 356.05L1131.3 356.40L1132.3 356.59L1133.3 356.75L1134.3 357.06L1135.3 357.40L1136.3 357.72L1137.3 358.13L1138.3 358.49L1139.3 358.81L1140.3 359.31L1141.3 359.86L1142.3 360.14L1143.3 360.38L1144.3 360.76L1145.3 361.00L1146.3 361.41L1147.3 361.96L1148.3 362.21L1149.3 362.48L1150.3 362.91L1151.3 363.28L1152.3 363.77L1153.3 364.33L1154.3 364.66L1155.3 364.91L1156.3 365.28L1157.3 365.71L1158.3 365.90L1159.3 366.00L1160.3 366.45L1161.3 366.82L1162.3 366.80L1163.3 367.04L1164.3 367.85L1165.3 368.46L1166.3 368.66L1167.3 369.10L1168.3 369.46L1169.3 369.59L1170.3 369.86L1171.3 370.14L1172.3 370.41L1173.3 370.79L1174.3 371.31L1175.3 371.83L1176.3 371.99L1177.3 371.94L1178.3 372.02L1179.3 372.20L1180.3 372.57L1181.3 373.11L1182.3 373.58L1183.3 373.89L1184.3 374.01L1185.3 374.20L1186.3 374.43L1187.3 374.60L1188.3 374.75L1189.3 375.03L1190.3 375.24L1191.3 375.17L1192.3 375.64L1193.3 376.38L1194.3 376.74L1195.3 376.98L1196.3 376.99L1197.3 377.04L1198.3 377.41L1199.3 377.60L1200.3 377.75L1201.3 378.27L1202.3 378.76L1203.3 378.86L1204.3 378.84L1205.3 379.03L1206.3 379.45L1207.3 379.87L1208.3 380.00L1209.3 380.08L1210.3 380.42L1211.3 380.54L1212.3 380.64L1213.3 381.07L1214.3 381.37L1215.3 381.48L1216.3 381.86L1217.3 382.41L1218.3 382.47L1219.3 382.39L1220.3 382.66L1221.3 382.90L1222.3 383.15L1223.3 383.50L1224.3 383.82L1225.3 384.00L1226.3 384.15L1227.3 384.26L1228.3 384.26L1229.3 384.40L1230.3 384.73L1231.3 384.88L1232.3 384.92L1233.3 385.14L1234.3 385.27L1235.3 385.29L1236.3 385.49L1237.3 385.78L1238.3 386.07L1239.3 386.29L1240.3 386.45L1241.3 386.61L1242.3 386.76L1243.3 386.85L1244.3 386.90L1245.3 387.11L1246.3 387.41L1247.3 387.58L1248.3 387.83L1249.3 388.18L1250.3 388.14L1251.3 387.95L1252.3 388.15L1253.3 388.39L1254.3 388.63L1255.3 388.77L1256.3 388.87L1257.3 389.10L1258.3 389.22L1259.3 389.34L1260.3 389.56L1261.3 389.75L1262.3 389.81L1263.3 389.78L1264.3 389.68L1265.3 389.76L1266.3 390.22L1267.3 390.65L1268.3 390.70L1269.3 390.65L1270.3 390.94L1271.3 391.27L1272.3 391.27L1273.3 391.21L1274.3 391.17L1275.3 391.17L1276.3 391.31L1277.3 391.34L1278.3 391.27L1279.3 391.35L1280.3 391.50L1281.3 391.76L1282.3 391.88L1283.3 391.80L1284.3 392.09L1285.3 392.43L1286.3 392.34L1287.3 392.19L1288.3 392.36L1289.3 392.59L1290.3 392.66L1291.3 392.64L1292.3 392.65L1293.3 392.85L1294.3 393.29L1295.3 393.39L1296.3 393.11L1297.3 393.26L1298.3 393.57L1299.3 393.53L1300.3 393.30L1301.3 393.37L1302.3 393.95L1303.3 394.37L1304.3 394.14L1305.3 393.79L1306.3 394.01L1307.3 394.43L1308.3 394.61L1309.3 394.91L1310.3 395.14L1311.3 394.99L1312.3 394.89L1313.3 394.99L1314.3 395.02L1315.3 394.98L1316.3 395.09L1317.3 395.08L1318.3 394.93L1319.3 395.00L1320.3 395.13L1321.3 395.37L1322.3 395.70L1323.3 395.80L1324.3 395.59L1325.3 395.54L1326.3 395.97L1327.3 396.16L1328.3 395.97L1329.3 395.94L1330.3 396.12L1331.3 396.31L1332.3 396.36L1333.3 396.43L1334.3 396.47L1335.3 396.47L1336.3 396.81L1337.3 397.08L1338.3 396.88L1339.3 396.75L1340.3 396.94L1341.4 396.92L1342.4 396.82L1343.4 396.98L1344.4 396.93L1345.4 396.77L1346.4 396.75L1347.4 396.74L1348.4 396.86L1349.4 397.12L1350.4 397.48L1351.4 397.50L1352.4 397.15L1353.4 397.44L1354.4 397.97L1355.4 397.86L1356.4 397.52L1357.4 397.50L1358.4 397.87L1359.4 397.97L1360.4 397.67L1361.4 397.47L1362.4 397.61L1363.4 397.76L1364.4 397.60L1365.4 397.61L1366.4 397.80L1367.4 397.92L1368.4 397.91L1369.4 397.82L1370.4 397.91L1371.4 397.81L1372.4 397.70L1373.4 398.00L1374.4 398.03L1375.4 397.93L1376.4 398.27L1377.4 398.50L1378.4 398.31L1379.4 398.13L1380.4 398.09L1381.4 398.15L1382.4 398.31L1383.4 398.42L1384.4 398.67L1385.4 398.94L1386.4 398.83L1387.4 398.77L1388.4 399.03L1389.4 399.15L1390.4 398.81L1391.4 398.54L1392.4 398.59L1393.4 398.84L1394.4 399.17L1395.4 399.21L1396.4 399.03L1397.4 398.75L1398.4 398.65L1399.4 398.73L1400.4 398.62L1401.4 398.66L1402.4 399.04L1403.4 399.31L1404.4 399.33L1405.4 399.25L1406.4 399.03L1407.4 398.80L1408.4 398.98L1409.4 398.95L1410.4 398.76L1411.4 399.00L1412.4 399.07L1413.4 399.08L1414.4 399.23L1415.4 399.13L1416.4 399.03L1417.4 399.07L1418.4 399.21L1419.4 399.37L1420.4 399.41L1421.4 399.28L1422.4 399.12L1423.4 399.23L1424.4 399.44L1425.4 399.52L1426.4 399.58L1427.4 399.66L1428.4 399.65L1429.4 399.60L1430.4 399.64L1431.4 399.76L1432.4 399.79L1433.4 399.84L1434.4 400.12L1435.4 400.06L1436.4 399.68L1437.4 399.56L1438.4 399.69L1439.4 400.08L1440.4 400.24L1441.4 399.98L1442.4 399.95L1443.4 400.26L1444.4 400.42L1445.4 400.47L1446.4 400.60L1447.4 400.54L1448.4 400.45L1449.4 400.56L1450.4 400.52L1451.4 400.34L1452.4 400.41L1453.4 400.59L1454.4 400.65L1455.4 400.72L1456.4 400.93L1457.4 400.92L1458.4 400.77L1459.4 400.89L1460.4 400.92L1461.4 400.93L1462.4 401.08L1463.4 401.10L1464.4 401.07L1465.4 401.25L1466.4 401.39L1467.4 401.41L1468.4 401.57L1469.4 401.70L1470.4 401.57L1471.4 401.47L1472.4 401.36L1473.4 401.13L1474.4 401.12L1475.4 401.13L1476.4 401.03L1477.4 401.07L1478.4 401.26L1479.4 401.27L1480.4 401.12L1481.4 401.16L1482.4 401.22L1483.4 401.37L1484.4 401.54L1485.4 401.46L1486.4 401.46L1487.4 401.52L1488.4 401.50L1489.4 401.62L1490.4 401.59L1491.4 401.49L1492.4 401.65L1493.4 401.49L1494.4 401.24L1495.4 401.58L1496.4 401.90L1497.4 401.81L1498.4 401.51L1499.4 401.46L1500.4 401.89L1501.4 401.90L1502.4 401.48L1503.4 401.44L1504.4 401.55L1505.4 401.53L1506.4 401.47L1507.4 401.50L1508.4 401.53L1509.4 401.58L1510.4 401.71L1511.4 401.68L1512.4 401.47L1513.4 401.37L1514.4 401.45L1515.4 401.64L1516.4 401.82L1517.4 401.86L1518.4 401.91L1519.4 401.84L1520.4 401.63L1521.4 401.66L1522.4 401.73L1523.4 401.56L1524.4 401.50L1525.4 401.66L1526.4 401.94L1527.4 402.03L1528.4 401.65L1529.4 401.47L1530.4 401.78L1531.4 401.98L1532.4 401.87L1533.4 401.63L1534.4 401.45L1535.4 401.52L1536.4 401.77L1537.4 402.04L1538.4 402.20L1539.4 402.05L1540.4 401.81L1541.4 401.86L1542.4 401.92L1543.4 401.79L1544.4 401.78L1545.4 402.08L1546.4 402.27L1547.4 402.03L1548.4 401.87L1549.4 401.89L1550.4 401.75L1551.4 401.81L1552.4 402.00L1553.4 401.99L1554.4 401.96L1555.4 401.91L1556.4 401.82L1557.4 401.77L1558.4 401.88L1559.4 401.98L1560.4 401.96L1561.4 401.91L1562.4 401.86L1563.4 401.89L1564.4 402.12L1565.4 402.28L1566.4 402.13L1567.4 402.19L1568.4 402.21L1569.4 402.15L1570.4 402.27L1571.4 402.20L1572.4 402.14L1573.4 402.06L1574.4 401.97L1575.4 402.19L1576.4 402.08L1577.4 401.65L1578.4 401.75L1579.4 402.24L1580.4 402.51L1581.4 402.46L1582.4 402.21L1583.4 401.99L1584.4 402.09L1585.4 402.32L1586.4 402.26L1587.4 402.13L1588.4 402.17L1589.4 402.24L1590.4 402.37L1591.4 402.31L1592.4 402.09L1593.4 401.97L1594.4 402.03L1595.4 402.24L1596.4 402.40L1597.4 402.49L1598.4 402.43L1599.4 402.16L1600.4 402.12L1601.4 402.45L1602.4 402.48L1603.4 402.20L1604.4 402.47L1605.4 402.67L1606.4 402.30L1607.4 402.08L1608.4 402.18L1609.4 402.28L1610.4 402.36L1611.4 402.58L1612.4 402.57L1613.4 402.21L1614.4 402.13L1615.4 402.41L1616.4 402.65L1617.4 402.63L1618.4 402.36L1619.4 402.27L1620.4 402.63L1621.4 402.72L1622.4 402.47L1623.4 402.31L1624.4 402.35L1625.4 402.50L1626.4 402.52L1627.4 402.39L1628.4 402.36L1629.4 402.46L1630.4 402.38L1631.4 402.20L1632.4 402.27L1633.4 402.40L1634.4 402.28L1635.4 402.17L1636.4 402.35L1637.4 402.76L1638.4 403.17L1639.4 402.99L1640.4 402.63L1641.4 402.81L1642.4 402.79L1643.4 402.45L1644.4 402.46L1645.4 402.76L1646.4 402.96L1647.4 402.83L1648.4 402.43L1649.4 402.36L1650.4 402.53L1651.4 402.43L1652.4 402.41L1653.4 402.35L1654.4 402.04L1655.4 402.29L1656.4 402.84L1657.4 402.73L1658.4 402.46L1659.4 402.58L1660.4 402.52L1661.4 402.27L1662.4 402.23L1663.4 402.44L1664.4 402.76L1665.4 402.88L1666.4 402.63L1667.4 402.47L1668.4 402.50L1669.4 402.52L1670.4 402.55L1671.4 402.63L1672.4 402.74L1673.4 402.76L1674.4 402.76L1675.4 402.84L1676.4 402.78L1677.4 402.75L1678.4 402.90L1679.4 403.05L1680.4 403.02L1681.4 402.88L1682.4 402.88L1683.5 402.79L1684.5 402.45L1685.5 402.26L1686.5 402.58L1687.5 402.97L1688.5 402.87L1689.5 402.63L1690.5 402.70L1691.5 402.78L1692.5 402.86L1693.5 403.22L1694.5 403.36L1695.5 403.10L1696.5 403.00L1697.5 403.33L1698.5 403.35L1699.5 403.03L1700.5 402.83L1701.5 402.61L1702.5 402.74L1703.5 402.83L1704.5 402.74L1705.5 402.85L1706.5 402.73L1707.5 402.58L1708.5 402.69L1709.5 402.97L1710.5 403.23L1711.5 403.08L1712.5 402.87L1713.5 402.93L1714.5 402.80L1715.5 402.59L1716.5 402.61L1717.5 402.63L1718.5 402.52L1719.5 402.48L1720.5 402.60L1721.5 402.89L1722.5 403.20L1723.5 403.30L1724.5 403.22L1725.5 403.13L1726.5 403.29L1727.5 403.39L1728.5 403.11L1729.5 402.80L1730.5 402.71L1731.5 402.98L1732.5 403.24L1733.5 403.09L1734.5 403.04L1735.5 403.12L1736.5 402.98L1737.5 403.16L1738.5 403.54L1739.5 403.36L1740.5 403.01L1741.5 402.78L1742.5 402.73L1743.5 402.84L1744.5 402.75L1745.5 402.78L1746.5 402.91L1747.5 402.99L1748.5 403.27L1749.5 403.26L1750.5 403.06L1751.5 403.03L1752.5 402.98L1753.5 402.97L1754.5 403.20L1755.5 403.32L1756.5 403.10L1757.5 402.96L1758.5 402.85L1759.5 402.90L1760.5 403.21L1761.5 403.12L1762.5 402.96L1763.5 402.98L1764.5 402.86L1765.5 402.64L1766.5 402.49L1767.5 402.63L1768.5 402.90L1769.5 402.94L1770.5 402.89L1771.5 402.93L1772.5 402.98L1773.5 402.93L1774.5 402.92L1775.5 403.30L1776.5 403.63L1777.5 403.52L1778.5 403.27L1779.5 403.16L1780.5 403.35L1781.5 403.54L1782.5 403.29L1783.5 403.10L1784.5 403.15L1785.5 403.02L1786.5 403.10L1787.5 403.43L1788.5 403.48L1789.5 403.32L1790.5 403.24L1791.5 403.30L1792.5 403.27L1793.5 403.02L1794.5 402.90L1795.5 402.99L1796.5 403.20L1797.5 403.42L1798.5 403.42L1799.5 403.16L1800.5 403.11L1801.5 403.26L1802.5 403.25L1803.5 403.41L1804.5 403.46L1805.5 403.04L1806.5 402.88L1807.5 403.00L1808.5 402.90L1809.5 402.84L1810.5 402.83L1811.5 402.94L1812.5 403.31L1813.5 403.48L1814.5 403.45L1815.5 403.41L1816.5 403.35L1817.5 403.34L1818.5 403.21L1819.5 403.03L1820.5 403.04L1821.5 402.99L1822.5 403.07L1823.5 403.37L1824.5 403.33L1825.5 403.22L1826.5 403.28L1827.5 403.35L1828.5 403.35L1829.5 403.19L1830.5 403.26L1831.5 403.35L1832.5 403.10L1833.5 402.90L1834.5 403.05L1835.5 403.32L1836.5 403.36L1837.5 403.21L1838.5 403.09L1839.5 403.07L1840.5 403.13L1841.5 403.07L1842.5 402.84L1843.5 402.84L1844.5 403.18L1845.5 403.45L1846.5 403.44L1847.5 403.47L1848.5 403.38L1849.5 403.28L1850.5 403.37L1851.5 403.47L1852.5 403.30L1853.5 403.30" stroke="#9900ff"/>
</g>
<g font-weight="bold" font-size="69.5" text-anchor="middle" fill="#000">
<text transform="translate(145.1 1393.6) scale(0.95 1)">50</text>
<text transform="translate(287.4 1393.6) scale(0.95 1)">100</text>
<text transform="translate(429.6 1393.6) scale(0.95 1)">150</text>
<text transform="translate(571.9 1393.6) scale(0.95 1)">200</text>
<text transform="translate(714.1 1393.6) scale(0.95 1)">250</text>
<text transform="translate(856.4 1393.6) scale(0.95 1)">300</text>
<text transform="translate(998.6 1393.6) scale(0.95 1)">350</text>
<text transform="translate(1140.8 1393.6) scale(0.95 1)">400</text>
<text transform="translate(1283.1 1393.6) scale(0.95 1)">450</text>
<text transform="translate(1425.3 1393.6) scale(0.95 1)">500</text>
<text transform="translate(1567.6 1393.6) scale(0.95 1)">550</text>
<text transform="translate(1709.8 1393.6) scale(0.95 1)">600</text>
<text transform="translate(1852.1 1393.6) scale(0.95 1)">650</text>
</g>
<text transform="translate(999.3 1505.7) scale(0.933 1)" font-weight="bold" font-size="69.5" text-anchor="middle">Temperature (°C)</text>
<text transform="translate(58.8 662) rotate(-90) scale(0.962 1)" font-weight="bold" font-size="69.5" text-anchor="middle">Intensity (a.u.)</text>
<text transform="translate(1596.3 95.3) scale(0.928 1)" font-size="69.5" font-style="italic">m/z</text>
<text transform="translate(1698.8 88.8) scale(1.067 0.8)" font-size="69.5">=</text>
<text transform="translate(1754.6 95.3) scale(0.921 1)" font-size="69.5">30</text>
<text transform="translate(1472.0 366.3) scale(0.95 1)" font-weight="bold" font-size="68" fill="#9900ff">Mn-HPW<tspan dx="0.82" dy="25.50" font-size="40.1558">0.04</tspan></text>
<text transform="translate(1475.0 717.2) scale(0.95 1)" font-weight="bold" font-size="68" fill="#ff00ff">Mn-HPW<tspan dx="0.92" dy="25.40" font-size="40.1558">0.02</tspan></text>
<text transform="translate(1452.4 999.3) scale(0.95 1)" font-weight="bold" font-size="68" fill="#ff0000">Mn-HPW<tspan dx="0.50" dy="25.30" font-size="40.1558">0.005</tspan></text>
<text transform="translate(1722.0 1218.0) scale(0.95 1)" font-weight="bold" font-size="68" fill="#000000">Mn</text>
</svg>
</body></html>
